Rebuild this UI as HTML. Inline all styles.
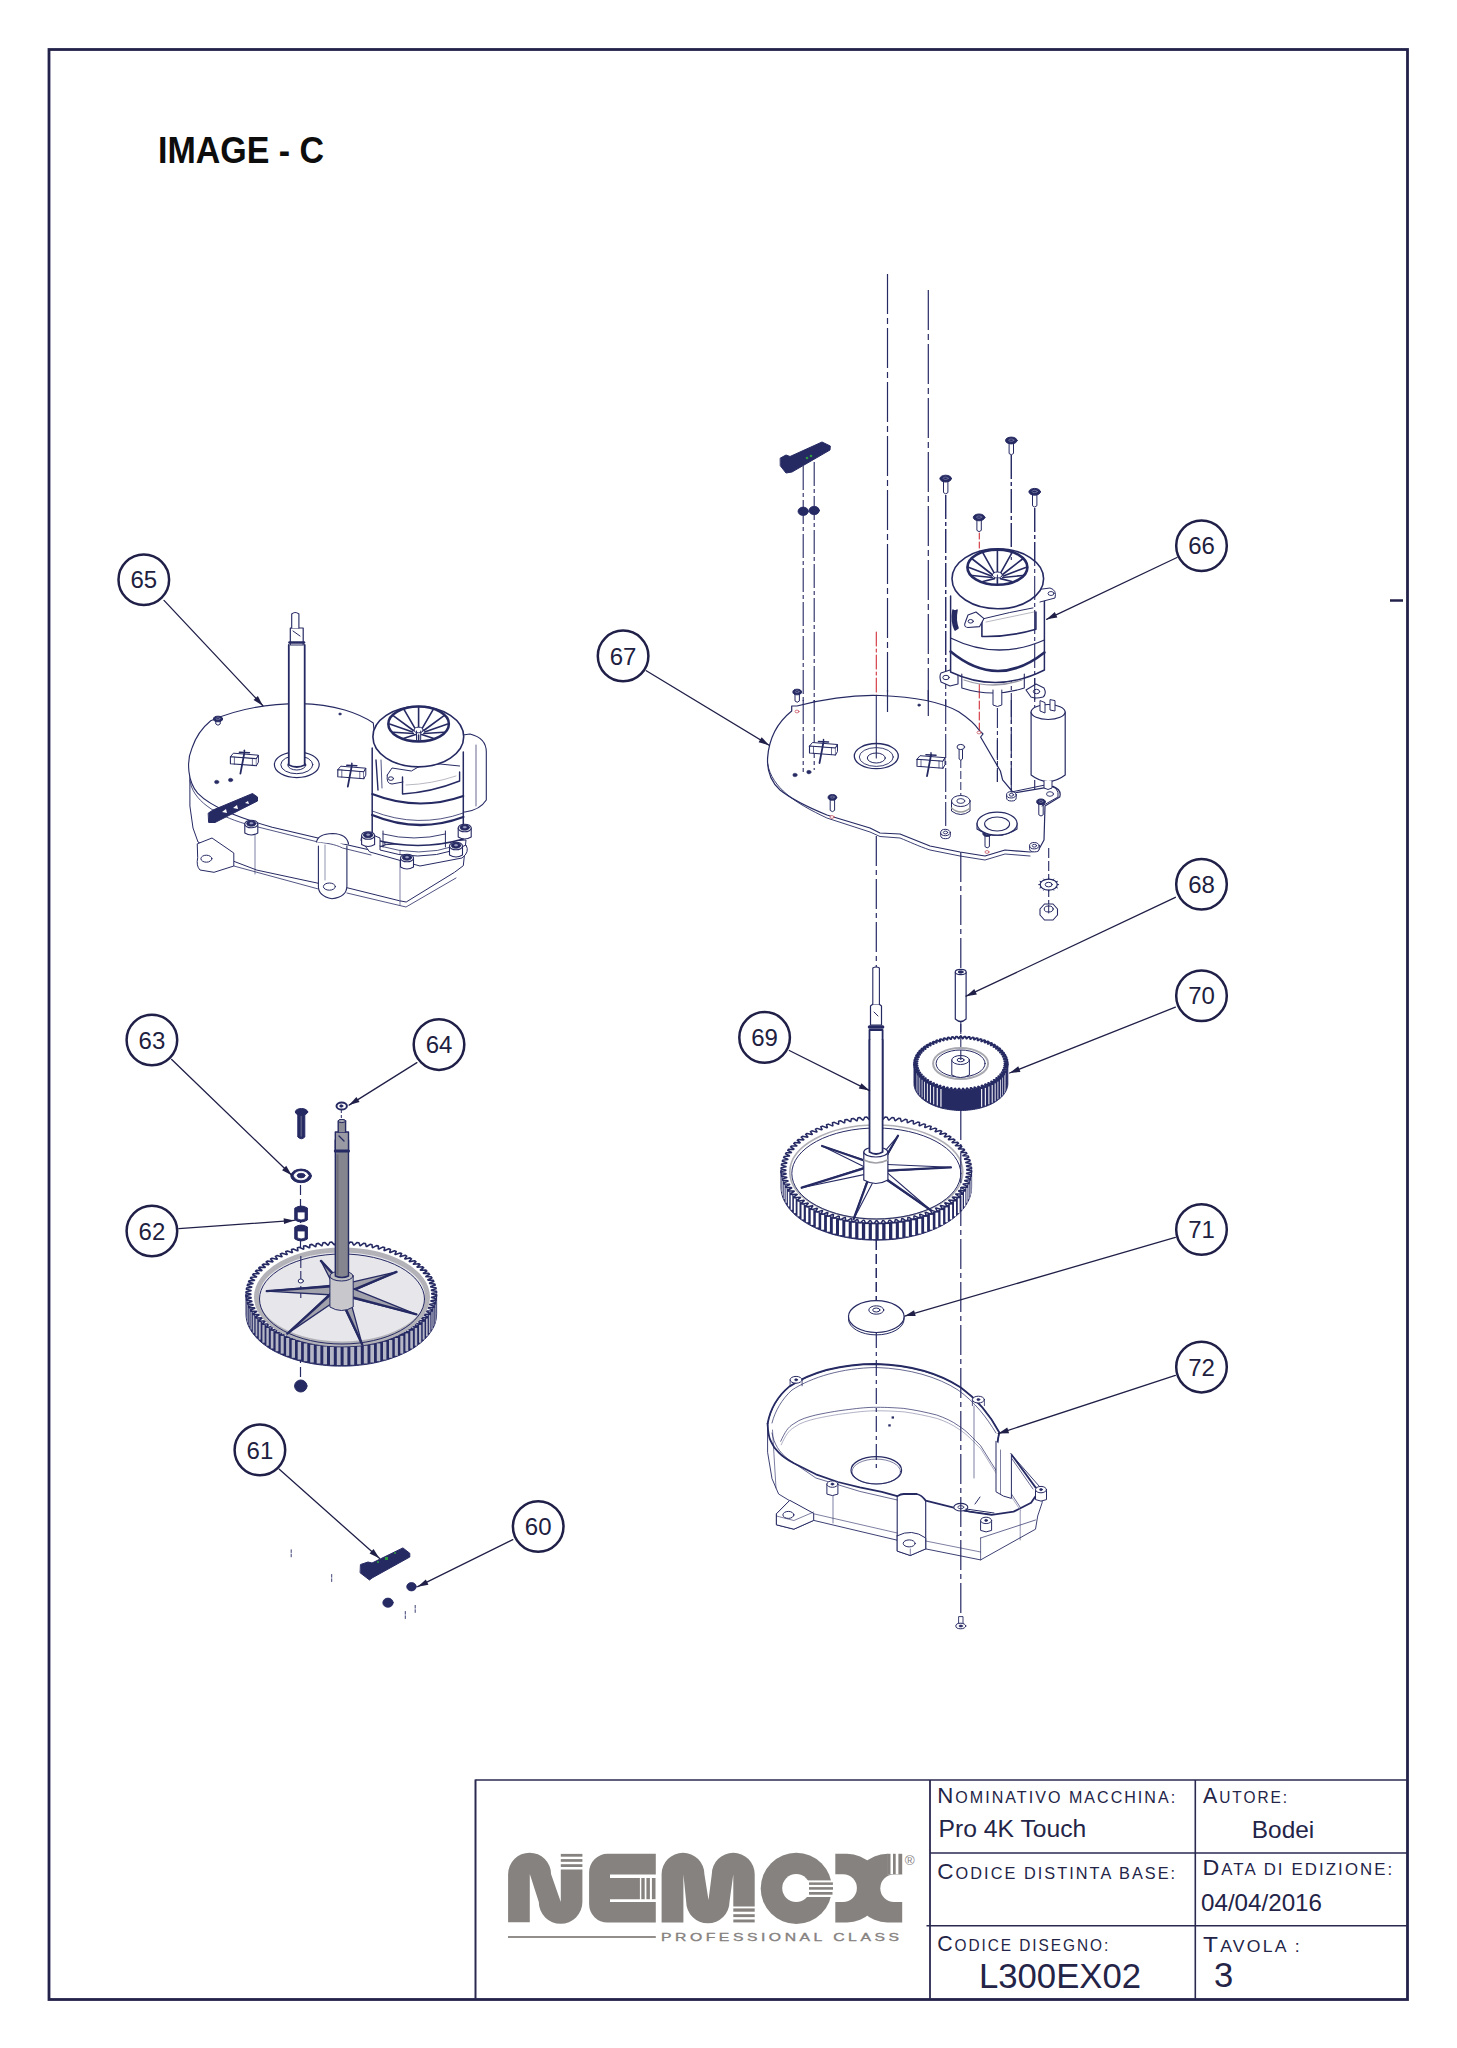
<!DOCTYPE html>
<html><head><meta charset="utf-8"><title>Nemox L300EX02</title>
<style>
html,body{margin:0;padding:0;background:#fff;}
body{width:1457px;height:2048px;overflow:hidden;position:relative;}
svg{position:absolute;left:0;top:0;}
text{font-family:"Liberation Sans",sans-serif;}
</style></head>
<body>
<svg width="1457" height="2048" viewBox="0 0 1457 2048">
<defs>
<marker id="ar" viewBox="0 0 12 8" refX="12" refY="4" markerWidth="12" markerHeight="7" markerUnits="userSpaceOnUse" orient="auto"><path d="M0,0.6 L12,4 L0,7.4 Z" fill="#1f1f48"/></marker>
</defs>
<g fill="none" stroke="#23224a">
<rect x="49" y="49.5" width="1358.5" height="1950" stroke-width="2.8"/>
<line x1="1390" y1="600.5" x2="1403" y2="600.5" stroke-width="2.5"/>
</g>
<text x="158" y="163.4" font-size="36.6" font-weight="bold" fill="#0d0d0d" textLength="166" lengthAdjust="spacingAndGlyphs">IMAGE - C</text>
<g stroke-linejoin="round" stroke-linecap="round">
<line x1="887.5" y1="274" x2="887.5" y2="712" stroke="#262a63" stroke-width="1.2" stroke-dasharray="40 4 6 4" stroke-linecap="butt"/>
<line x1="928.3" y1="290" x2="928.3" y2="716" stroke="#262a63" stroke-width="1.2" stroke-dasharray="40 4 6 4" stroke-linecap="butt"/>
<path d="M189.9,764 L189.9,806 L193,828 L198,842 L233.8,861.3 L256.9,870.1 L318.4,883.3 L346.9,887.7 L399.6,900.8 L406.2,902 L454.5,872.3 L463.3,865.7 L466,840 L380,845 Z" stroke="#262a63" stroke-width="1.0" fill="#fff" />
<path d="M233.8,866 L318.4,889 M346.9,893 L406,907 L456,878" stroke="#262a63" stroke-width="0.8" fill="none" />
<line x1="255" y1="826" x2="255" y2="874" stroke="#262a63" stroke-width="0.6" />
<line x1="400" y1="850" x2="400" y2="905" stroke="#262a63" stroke-width="0.6" />
<path d="M197.6,843.7 L212,838 L233.8,853 L233.8,866 L214,872.3 L200,870 Q196,866 197.6,858 Z" stroke="#262a63" stroke-width="1.0" fill="#fff" />
<ellipse cx="206.4" cy="858.7" rx="5.5" ry="3.5" stroke="#262a63" stroke-width="1.0" fill="none" />
<path d="M318.4,846 L318.4,886 Q318,896 332,898.7 Q346.9,897 346.9,886 L346.9,846" stroke="#262a63" stroke-width="1.1" fill="#fff" />
<line x1="325" y1="845" x2="325" y2="880" stroke="#262a63" stroke-width="0.5" />
<ellipse cx="329.4" cy="886.6" rx="6" ry="3.6" stroke="#262a63" stroke-width="1.0" fill="none" />
<path d="M210.7,720.7 C240,708 270,703.6 300,703.6 C335,704 360,714 373.3,723 L385,845 L371,850.3 L342.5,843.7 C332,838 322,839 318,838 L272.2,827.3 C240,818 212,808 197.6,793.2 C188,782 186,762 192,748 C196,736 203,727 210.7,720.7 Z" stroke="#262a63" stroke-width="1.1" fill="#fff" />
<path d="M189.9,780 C192,800 215,815 245.9,824 L318,842 C325,843 335,844 342.5,848 L371,855" stroke="#262a63" stroke-width="0.8" fill="none" />
<path d="M316.5,842 Q318,834 332.6,833.5 Q347,834 348.5,844" stroke="#262a63" stroke-width="1.2" fill="#fff" />
<path d="M215.8,720 V724 Q218,726.5 220.2,724 V720" stroke="#262a63" stroke-width="1.0" fill="#fff" />
<ellipse cx="218" cy="719" rx="4.5" ry="2.8" stroke="#262a63" stroke-width="1.0" fill="#262a63" />
<ellipse cx="218" cy="718.7" rx="2" ry="1" stroke="#8a8cb0" stroke-width="0.6" fill="none" />
<path d="M230.4,756.7 L233.4,753.2 L258.4,755.2 L256.4,758.7 Z" stroke="#262a63" stroke-width="1.0" fill="#fff" />
<path d="M230.4,756.7 L256.4,758.7 L256.4,765.7 L230.4,763.7 Z" stroke="#262a63" stroke-width="1.1" fill="#fff" />
<path d="M256.4,758.7 L258.4,755.2 L258.4,762.2 L256.4,765.7" stroke="#262a63" stroke-width="1.0" fill="#fff" />
<line x1="234.4" y1="757.2" x2="234.4" y2="764.2" stroke="#262a63" stroke-width="0.7" />
<line x1="252.4" y1="758.4" x2="252.4" y2="765.4" stroke="#262a63" stroke-width="0.7" />
<line x1="239.4" y1="752.2" x2="249.4" y2="752.7" stroke="#262a63" stroke-width="1.6" />
<line x1="244.4" y1="750.2" x2="244.4" y2="752.7" stroke="#262a63" stroke-width="1.4" />
<line x1="244.4" y1="752.7" x2="240.4" y2="773.7" stroke="#262a63" stroke-width="1.8" />
<path d="M337.8,769.7 L340.8,766.2 L365.8,768.2 L363.8,771.7 Z" stroke="#262a63" stroke-width="1.0" fill="#fff" />
<path d="M337.8,769.7 L363.8,771.7 L363.8,778.7 L337.8,776.7 Z" stroke="#262a63" stroke-width="1.1" fill="#fff" />
<path d="M363.8,771.7 L365.8,768.2 L365.8,775.2 L363.8,778.7" stroke="#262a63" stroke-width="1.0" fill="#fff" />
<line x1="341.8" y1="770.2" x2="341.8" y2="777.2" stroke="#262a63" stroke-width="0.7" />
<line x1="359.8" y1="771.4" x2="359.8" y2="778.4" stroke="#262a63" stroke-width="0.7" />
<line x1="346.8" y1="765.2" x2="356.8" y2="765.7" stroke="#262a63" stroke-width="1.6" />
<line x1="351.8" y1="763.2" x2="351.8" y2="765.7" stroke="#262a63" stroke-width="1.4" />
<line x1="351.8" y1="765.7" x2="347.8" y2="786.7" stroke="#262a63" stroke-width="1.8" />
<ellipse cx="216.7" cy="782" rx="2.2" ry="1.8" stroke="#262a63" stroke-width="0.5" fill="#262a63" />
<ellipse cx="230.6" cy="780" rx="2.2" ry="1.8" stroke="#262a63" stroke-width="0.5" fill="#262a63" />
<ellipse cx="340" cy="714" rx="1.3" ry="1.1" stroke="#262a63" stroke-width="0.5" fill="#262a63" />
<path d="M208.5,813 L213,810 L252.5,793.5 L257.5,797 L257.5,801 L215,822.5 L209,822.5 Z" stroke="#262a63" stroke-width="1.0" fill="#262a63" />
<path d="M222,812 L226,809 L227,813 Z M233,808 L237,805 L238,809 Z M245,803 L248,801 L249,804 Z" fill="#fff"/>
<ellipse cx="296.8" cy="764.7" rx="22.4" ry="12.9" stroke="#262a63" stroke-width="1.2" fill="#fff" />
<ellipse cx="296.8" cy="764.7" rx="16" ry="9" stroke="#262a63" stroke-width="1.0" fill="#fff" />
<ellipse cx="296.8" cy="765" rx="9" ry="5" stroke="#262a63" stroke-width="1.0" fill="#fff" />
<path d="M288.8,645 V765 Q296.8,769 304.7,765 V645" stroke="#262a63" stroke-width="1.8" fill="#fff" />
<path d="M290.3,628 V645 H303.2 V628 Z" stroke="#262a63" stroke-width="1.2" fill="#fff" />
<line x1="289.5" y1="642.5" x2="304" y2="642.5" stroke="#262a63" stroke-width="2.6" />
<path d="M291.7,628 V614 Q295.3,611 298.9,614 V628" stroke="#262a63" stroke-width="1.1" fill="#fff" />
<line x1="293" y1="631" x2="300" y2="636" stroke="#262a63" stroke-width="1.0" />
<path d="M456,736 L470,734 Q486.3,738 486.3,752 L486.3,800 Q480,810 465,812 L460,812" stroke="#262a63" stroke-width="1.1" fill="#fff" />
<line x1="476" y1="745" x2="476" y2="806" stroke="#262a63" stroke-width="0.7" />
<path d="M372.2,748 V839 Q418,852 463.3,839 V752" stroke="#262a63" stroke-width="1.5" fill="#fff" />
<path d="M372.2,794 Q418,812 463.3,796" stroke="#262a63" stroke-width="2.0" fill="none" />
<path d="M372.2,811 Q418,829 463.3,813" stroke="#262a63" stroke-width="0.8" fill="none" />
<path d="M372.2,815 Q418,834 463.3,817" stroke="#262a63" stroke-width="2.4" fill="none" />
<path d="M383,831 L383,847 M445.4,831 L445.4,847" stroke="#262a63" stroke-width="1.0" fill="none" />
<path d="M383,834 Q414,842 445.4,834" stroke="#262a63" stroke-width="0.9" fill="none" />
<path d="M402.5,777 L402.5,794 Q432,792 459.6,781 L459.6,772" stroke="#262a63" stroke-width="1.4" fill="#fff" />
<path d="M387.3,775 L392,768 L411.4,771 L420,766 L440,764 L459.6,766" stroke="#262a63" stroke-width="1.0" fill="none" />
<path d="M387.3,775 Q386,784 392,784 L403,782" stroke="#262a63" stroke-width="1.0" fill="none" />
<ellipse cx="390.9" cy="778.6" rx="2.6" ry="1.8" stroke="#262a63" stroke-width="1.0" fill="#fff" />
<path d="M406,785 Q432,784 456,776" stroke="#9a9aa8" stroke-width="0.7" fill="none" />
<line x1="376" y1="760" x2="378" y2="790" stroke="#262a63" stroke-width="1.4" />
<line x1="381" y1="760" x2="382" y2="788" stroke="#262a63" stroke-width="0.8" />
<path d="M361,840 Q361,834 368,833 L380,838 L380,850 Q418,862 455,850 L466,845 Q470,852 462,858 L420,866 L370,852 Z" stroke="#262a63" stroke-width="1.0" fill="#fff" />
<path d="M380,846 Q420,858 455,846" stroke="#262a63" stroke-width="0.8" fill="none" />
<ellipse cx="418.3" cy="736.7" rx="45.4" ry="30.2" stroke="#262a63" stroke-width="1.6" fill="#fff" />
<ellipse cx="418.6" cy="724" rx="30.3" ry="17.4" stroke="#262a63" stroke-width="2.5" fill="#fff" />
<line x1="424.6" y1="732" x2="447.6" y2="724" stroke="#262a63" stroke-width="1.6" />
<line x1="423.8" y1="733.5" x2="443.7" y2="732.2" stroke="#262a63" stroke-width="1.6" />
<line x1="421.6" y1="734.6" x2="433.1" y2="738.3" stroke="#262a63" stroke-width="1.6" />
<line x1="418.6" y1="735" x2="418.6" y2="740.5" stroke="#262a63" stroke-width="1.6" />
<line x1="415.6" y1="734.6" x2="404.1" y2="738.3" stroke="#262a63" stroke-width="1.6" />
<line x1="413.4" y1="733.5" x2="393.5" y2="732.2" stroke="#262a63" stroke-width="1.6" />
<line x1="412.6" y1="732" x2="389.6" y2="724" stroke="#262a63" stroke-width="1.6" />
<line x1="413.4" y1="730.5" x2="393.5" y2="715.8" stroke="#262a63" stroke-width="1.6" />
<line x1="415.6" y1="729.4" x2="404.1" y2="709.7" stroke="#262a63" stroke-width="1.6" />
<line x1="418.6" y1="729" x2="418.6" y2="707.5" stroke="#262a63" stroke-width="1.6" />
<line x1="421.6" y1="729.4" x2="433.1" y2="709.7" stroke="#262a63" stroke-width="1.6" />
<line x1="423.8" y1="730.5" x2="443.7" y2="715.8" stroke="#262a63" stroke-width="1.6" />
<ellipse cx="418.6" cy="730" rx="4.5" ry="2.8" stroke="#262a63" stroke-width="1.0" fill="#fff" />
<line x1="416.5" y1="731" x2="416.5" y2="740" stroke="#262a63" stroke-width="1.0" />
<line x1="420.7" y1="731" x2="420.7" y2="740" stroke="#262a63" stroke-width="1.0" />
<path d="M244.8,824 V833 Q251.3,837 257.8,833 V824" stroke="#262a63" stroke-width="1.1" fill="#fff" />
<ellipse cx="251.3" cy="824" rx="6.5" ry="3.8" stroke="#262a63" stroke-width="1.1" fill="#fff" />
<ellipse cx="251.3" cy="823.5" rx="4.6" ry="2.7" stroke="#262a63" stroke-width="0.9" fill="#262a63" />
<ellipse cx="251.3" cy="823.2" rx="1.6" ry="0.9" stroke="#9a9cc0" stroke-width="0.5" fill="#9a9cc0" />
<path d="M361.6,835.5 V844.5 Q368.1,848.5 374.6,844.5 V835.5" stroke="#262a63" stroke-width="1.1" fill="#fff" />
<ellipse cx="368.1" cy="835.5" rx="6.5" ry="3.8" stroke="#262a63" stroke-width="1.1" fill="#fff" />
<ellipse cx="368.1" cy="835" rx="4.6" ry="2.7" stroke="#262a63" stroke-width="0.9" fill="#262a63" />
<ellipse cx="368.1" cy="834.7" rx="1.6" ry="0.9" stroke="#9a9cc0" stroke-width="0.5" fill="#9a9cc0" />
<path d="M458.2,828 V837 Q464.7,841 471.2,837 V828" stroke="#262a63" stroke-width="1.1" fill="#fff" />
<ellipse cx="464.7" cy="828" rx="6.5" ry="3.8" stroke="#262a63" stroke-width="1.1" fill="#fff" />
<ellipse cx="464.7" cy="827.5" rx="4.6" ry="2.7" stroke="#262a63" stroke-width="0.9" fill="#262a63" />
<ellipse cx="464.7" cy="827.2" rx="1.6" ry="0.9" stroke="#9a9cc0" stroke-width="0.5" fill="#9a9cc0" />
<path d="M400.5,858 V867 Q407,871 413.5,867 V858" stroke="#262a63" stroke-width="1.1" fill="#fff" />
<ellipse cx="407" cy="858" rx="6.5" ry="3.8" stroke="#262a63" stroke-width="1.1" fill="#fff" />
<ellipse cx="407" cy="857.5" rx="4.6" ry="2.7" stroke="#262a63" stroke-width="0.9" fill="#262a63" />
<ellipse cx="407" cy="857.2" rx="1.6" ry="0.9" stroke="#9a9cc0" stroke-width="0.5" fill="#9a9cc0" />
<path d="M449.5,846 V855 Q456,859 462.5,855 V846" stroke="#262a63" stroke-width="1.1" fill="#fff" />
<ellipse cx="456" cy="846" rx="6.5" ry="3.8" stroke="#262a63" stroke-width="1.1" fill="#fff" />
<ellipse cx="456" cy="845.5" rx="4.6" ry="2.7" stroke="#262a63" stroke-width="0.9" fill="#262a63" />
<ellipse cx="456" cy="845.2" rx="1.6" ry="0.9" stroke="#9a9cc0" stroke-width="0.5" fill="#9a9cc0" />
<line x1="876.3" y1="632" x2="876.3" y2="696" stroke="#d0303a" stroke-width="1.1" stroke-dasharray="14 3 3 3"/>
<line x1="979.3" y1="533" x2="979.3" y2="552" stroke="#d0303a" stroke-width="1.1" stroke-dasharray="6 3"/>
<line x1="979.3" y1="690" x2="979.3" y2="732" stroke="#d0303a" stroke-width="1.1" stroke-dasharray="8 3"/>
<line x1="803.2" y1="466" x2="803.2" y2="772" stroke="#262a63" stroke-width="1.1" stroke-dasharray="24 3 4 3" stroke-linecap="butt"/>
<line x1="814.2" y1="462" x2="814.2" y2="770" stroke="#262a63" stroke-width="1.1" stroke-dasharray="24 3 4 3" stroke-linecap="butt"/>
<path d="M780.5,458 L786,455 L790,456.5 L822,442 L830.3,446 L830,450 L792,472 L786,473 L780.5,466 Z" stroke="#262a63" stroke-width="1.0" fill="#262a63" />
<circle cx="807" cy="458" r="1.3" fill="#2c9a3c"/><circle cx="811" cy="456" r="1.3" fill="#2c9a3c"/>
<ellipse cx="803.2" cy="511.3" rx="5.2" ry="4.2" stroke="#262a63" stroke-width="0.8" fill="#262a63" />
<ellipse cx="814.2" cy="510.5" rx="5.2" ry="4.2" stroke="#262a63" stroke-width="0.8" fill="#262a63" />
<line x1="945.7" y1="495" x2="945.7" y2="835" stroke="#262a63" stroke-width="1.1" stroke-dasharray="24 3 4 3" stroke-linecap="butt"/>
<line x1="1011.3" y1="455" x2="1011.3" y2="795" stroke="#262a63" stroke-width="1.1" stroke-dasharray="24 3 4 3" stroke-linecap="butt"/>
<line x1="1034.7" y1="508" x2="1034.7" y2="850" stroke="#262a63" stroke-width="1.1" stroke-dasharray="24 3 4 3" stroke-linecap="butt"/>
<line x1="876.3" y1="836" x2="876.3" y2="1005" stroke="#262a63" stroke-width="1.2" stroke-dasharray="30 4 5 4" stroke-linecap="butt"/>
<line x1="960.8" y1="852" x2="960.8" y2="970" stroke="#262a63" stroke-width="1.2" stroke-dasharray="30 4 5 4" stroke-linecap="butt"/>
<line x1="1048.7" y1="848" x2="1048.7" y2="905" stroke="#262a63" stroke-width="1.1" stroke-dasharray="10 3" stroke-linecap="butt"/>
<path d="M791.7,706 L797,706 C820,700 850,694.5 880,695.5 C920,697 945,704 958.7,711.7 C968,718 975,724 978.4,729.3 L983,734 L980.6,737 L1000.4,771 L1002.6,779.8 L1013.6,793 L1053.1,786.4 Q1062,790 1059.7,797 L1045,806 L1044,840 L1038,851 L1030,852 L1005,850 L985,856 L960,852 L930,846 C915,840 905,836 900,834 L880,833 L870,828 L826.9,815 C805,806 790,798 780,790 C770,781 767,770 767.6,757.9 C769,738 778,722 791.7,711 Z" stroke="#262a63" stroke-width="1.2" fill="#fff" />
<path d="M767.6,764 C772,788 795,803 826.9,818 L870,832 L880,836.5 L900,838 C910,842 918,846 930,850 L960,856 L985,860 L1005,854 L1030,856" stroke="#262a63" stroke-width="0.9" fill="none" />
<line x1="803.2" y1="700" x2="803.2" y2="772" stroke="#262a63" stroke-width="1.1" stroke-dasharray="24 3 4 3" stroke-linecap="butt"/>
<line x1="814.2" y1="700" x2="814.2" y2="770" stroke="#262a63" stroke-width="1.1" stroke-dasharray="24 3 4 3" stroke-linecap="butt"/>
<line x1="887.5" y1="690" x2="887.5" y2="712" stroke="#262a63" stroke-width="1.2" stroke-dasharray="40 4 6 4" stroke-linecap="butt"/>
<line x1="928.3" y1="690" x2="928.3" y2="716" stroke="#262a63" stroke-width="1.2" stroke-dasharray="40 4 6 4" stroke-linecap="butt"/>
<line x1="945.7" y1="700" x2="945.7" y2="830" stroke="#262a63" stroke-width="1.1" stroke-dasharray="24 3 4 3" stroke-linecap="butt"/>
<line x1="1011.3" y1="700" x2="1011.3" y2="792" stroke="#262a63" stroke-width="1.1" stroke-dasharray="24 3 4 3" stroke-linecap="butt"/>
<line x1="997.4" y1="740" x2="997.4" y2="782" stroke="#262a63" stroke-width="1.1" stroke-dasharray="20 3 4 3" stroke-linecap="butt"/>
<ellipse cx="876.3" cy="756.1" rx="22" ry="12.6" stroke="#262a63" stroke-width="1.3" fill="#fff" />
<ellipse cx="876.3" cy="757" rx="17" ry="9.4" stroke="#262a63" stroke-width="0.9" fill="#fff" />
<ellipse cx="876.3" cy="758" rx="9" ry="5" stroke="#262a63" stroke-width="1.0" fill="#fff" />
<line x1="876.3" y1="696" x2="876.3" y2="758" stroke="#262a63" stroke-width="1.1" />
<path d="M809.5,746 L812.5,742.5 L837.5,744.5 L835.5,748 Z" stroke="#262a63" stroke-width="1.0" fill="#fff" />
<path d="M809.5,746 L835.5,748 L835.5,755 L809.5,753 Z" stroke="#262a63" stroke-width="1.1" fill="#fff" />
<path d="M835.5,748 L837.5,744.5 L837.5,751.5 L835.5,755" stroke="#262a63" stroke-width="1.0" fill="#fff" />
<line x1="813.5" y1="746.5" x2="813.5" y2="753.5" stroke="#262a63" stroke-width="0.7" />
<line x1="831.5" y1="747.7" x2="831.5" y2="754.7" stroke="#262a63" stroke-width="0.7" />
<line x1="818.5" y1="741.5" x2="828.5" y2="742" stroke="#262a63" stroke-width="1.6" />
<line x1="823.5" y1="739.5" x2="823.5" y2="742" stroke="#262a63" stroke-width="1.4" />
<line x1="823.5" y1="742" x2="819.5" y2="763" stroke="#262a63" stroke-width="1.8" />
<path d="M917,759.2 L920,755.7 L945,757.7 L943,761.2 Z" stroke="#262a63" stroke-width="1.0" fill="#fff" />
<path d="M917,759.2 L943,761.2 L943,768.2 L917,766.2 Z" stroke="#262a63" stroke-width="1.1" fill="#fff" />
<path d="M943,761.2 L945,757.7 L945,764.7 L943,768.2" stroke="#262a63" stroke-width="1.0" fill="#fff" />
<line x1="921" y1="759.7" x2="921" y2="766.7" stroke="#262a63" stroke-width="0.7" />
<line x1="939" y1="760.9" x2="939" y2="767.9" stroke="#262a63" stroke-width="0.7" />
<line x1="926" y1="754.7" x2="936" y2="755.2" stroke="#262a63" stroke-width="1.6" />
<line x1="931" y1="752.7" x2="931" y2="755.2" stroke="#262a63" stroke-width="1.4" />
<line x1="931" y1="755.2" x2="927" y2="776.2" stroke="#262a63" stroke-width="1.8" />
<ellipse cx="795" cy="775" rx="2.2" ry="1.8" stroke="#262a63" stroke-width="0.5" fill="#262a63" />
<ellipse cx="808.9" cy="772.1" rx="2.2" ry="1.8" stroke="#262a63" stroke-width="0.5" fill="#262a63" />
<ellipse cx="919.1" cy="705.1" rx="1.4" ry="1.2" stroke="#262a63" stroke-width="0.5" fill="#262a63" />
<ellipse cx="797" cy="711.5" rx="2" ry="1.4" stroke="#c04050" stroke-width="0.7" fill="#fff" />
<ellipse cx="979" cy="732.5" rx="2" ry="1.4" stroke="#c04050" stroke-width="0.7" fill="#fff" />
<ellipse cx="832" cy="817" rx="2" ry="1.4" stroke="#c04050" stroke-width="0.7" fill="#fff" />
<ellipse cx="987" cy="852" rx="2" ry="1.4" stroke="#c04050" stroke-width="0.7" fill="#fff" />
<path d="M795,693 V701 Q797.2,703.5 799.4,701 V693" stroke="#262a63" stroke-width="1.0" fill="#fff" />
<ellipse cx="797.2" cy="692" rx="4.3" ry="2.8" stroke="#262a63" stroke-width="1.0" fill="#262a63" />
<ellipse cx="797.2" cy="691.7" rx="1.9" ry="1" stroke="#8a8cb0" stroke-width="0.6" fill="none" />
<path d="M830.2,798.4 V810.4 Q832.4,812.9 834.6,810.4 V798.4" stroke="#262a63" stroke-width="1.0" fill="#fff" />
<ellipse cx="832.4" cy="797.4" rx="4.3" ry="2.8" stroke="#262a63" stroke-width="1.0" fill="#262a63" />
<ellipse cx="832.4" cy="797.1" rx="1.9" ry="1" stroke="#8a8cb0" stroke-width="0.6" fill="none" />
<path d="M985,834.6 V846.6 Q987.2,849.1 989.4,846.6 V834.6" stroke="#262a63" stroke-width="1.0" fill="#fff" />
<ellipse cx="987.2" cy="833.6" rx="4.3" ry="2.8" stroke="#262a63" stroke-width="1.0" fill="#262a63" />
<ellipse cx="987.2" cy="833.3" rx="1.9" ry="1" stroke="#8a8cb0" stroke-width="0.6" fill="none" />
<path d="M1038.8,802.8 V814.8 Q1041,817.3 1043.2,814.8 V802.8" stroke="#262a63" stroke-width="1.0" fill="#fff" />
<ellipse cx="1041" cy="801.8" rx="4.3" ry="2.8" stroke="#262a63" stroke-width="1.0" fill="#262a63" />
<ellipse cx="1041" cy="801.5" rx="1.9" ry="1" stroke="#8a8cb0" stroke-width="0.6" fill="none" />
<line x1="960.8" y1="760" x2="960.8" y2="796" stroke="#262a63" stroke-width="1.0" stroke-dasharray="8 3" stroke-linecap="butt"/>
<path d="M959.1,748 V759 Q960.8,761.5 962.5,759 V748" stroke="#262a63" stroke-width="1.0" fill="#fff" />
<ellipse cx="960.8" cy="747" rx="3.8" ry="2.6" stroke="#262a63" stroke-width="1.0" fill="#fff" />
<path d="M951.5,801 V811 Q960.8,818 970,811 V801" stroke="#262a63" stroke-width="1.0" fill="#fff" />
<ellipse cx="960.8" cy="801" rx="9.3" ry="5.5" stroke="#262a63" stroke-width="1.0" fill="#fff" />
<ellipse cx="960.8" cy="801" rx="4" ry="2.4" stroke="#262a63" stroke-width="0.9" fill="#fff" />
<path d="M951.5,808 Q960.8,816 970,808" stroke="#9a9a9a" stroke-width="1.6" fill="none" />
<path d="M977,823 V829 Q997,842 1017,829 V823" stroke="#262a63" stroke-width="1.1" fill="#fff" />
<ellipse cx="997.1" cy="823.7" rx="20" ry="11.5" stroke="#262a63" stroke-width="1.2" fill="#fff" />
<ellipse cx="997.1" cy="824" rx="12.5" ry="7" stroke="#262a63" stroke-width="1.1" fill="#fff" />
<path d="M940.7,832.5 V835.5 A4.8,3.2 0 0 0 950.3,835.5 V832.5" stroke="#262a63" stroke-width="1.0" fill="#fff" />
<ellipse cx="945.5" cy="832.5" rx="4.8" ry="3.2" stroke="#262a63" stroke-width="1.0" fill="#fff" />
<ellipse cx="945.5" cy="832.5" rx="2.2" ry="1.4" stroke="#262a63" stroke-width="0.9" fill="#fff" />
<path d="M1006.6,794.8 V797.8 A4.8,3.2 0 0 0 1016.2,797.8 V794.8" stroke="#262a63" stroke-width="1.0" fill="#fff" />
<ellipse cx="1011.4" cy="794.8" rx="4.8" ry="3.2" stroke="#262a63" stroke-width="1.0" fill="#fff" />
<ellipse cx="1011.4" cy="794.8" rx="2.2" ry="1.4" stroke="#262a63" stroke-width="0.9" fill="#fff" />
<path d="M1029.6,845.7 V848.7 A4.8,3.2 0 0 0 1039.2,848.7 V845.7" stroke="#262a63" stroke-width="1.0" fill="#fff" />
<ellipse cx="1034.4" cy="845.7" rx="4.8" ry="3.2" stroke="#262a63" stroke-width="1.0" fill="#fff" />
<ellipse cx="1034.4" cy="845.7" rx="2.2" ry="1.4" stroke="#262a63" stroke-width="0.9" fill="#fff" />
<path d="M1011.4,792 L1045,785 Q1060,786 1058,797 L1042,806" stroke="#262a63" stroke-width="1.0" fill="none" />
<ellipse cx="1050" cy="794" rx="3.5" ry="2.3" stroke="#262a63" stroke-width="0.9" fill="#fff" />
<path d="M1031.1,712 V775 Q1048,788 1065.2,775 V712" stroke="#262a63" stroke-width="1.2" fill="#fff" />
<ellipse cx="1048.1" cy="712" rx="17" ry="7.5" stroke="#262a63" stroke-width="1.2" fill="#fff" />
<path d="M1040,701 V711 L1045,713 V703 Z M1050,700 V710 L1055,711 V701 Z" stroke="#262a63" stroke-width="1.0" fill="#fff" />
<path d="M1044,781 V788 Q1048,791 1052,788 V781" stroke="#262a63" stroke-width="1.0" fill="#fff" />
<ellipse cx="1048.7" cy="884.6" rx="8.6" ry="5.5" stroke="#262a63" stroke-width="1.2" fill="#fff" />
<ellipse cx="1048.7" cy="884.6" rx="3.5" ry="2.3" stroke="#262a63" stroke-width="1.0" fill="#fff" />
<line x1="1057.3" y1="884.6" x2="1058.7" y2="884.6" stroke="#262a63" stroke-width="1.0" />
<line x1="1056.1" y1="887.4" x2="1057.4" y2="887.9" stroke="#262a63" stroke-width="1.0" />
<line x1="1053" y1="889.4" x2="1053.7" y2="890.2" stroke="#262a63" stroke-width="1.0" />
<line x1="1048.7" y1="890.1" x2="1048.7" y2="891.1" stroke="#262a63" stroke-width="1.0" />
<line x1="1044.4" y1="889.4" x2="1043.7" y2="890.2" stroke="#262a63" stroke-width="1.0" />
<line x1="1041.3" y1="887.4" x2="1040" y2="887.9" stroke="#262a63" stroke-width="1.0" />
<line x1="1040.1" y1="884.6" x2="1038.7" y2="884.6" stroke="#262a63" stroke-width="1.0" />
<line x1="1041.3" y1="881.9" x2="1040" y2="881.4" stroke="#262a63" stroke-width="1.0" />
<line x1="1044.4" y1="879.8" x2="1043.7" y2="879" stroke="#262a63" stroke-width="1.0" />
<line x1="1048.7" y1="879.1" x2="1048.7" y2="878.1" stroke="#262a63" stroke-width="1.0" />
<line x1="1053" y1="879.8" x2="1053.7" y2="879" stroke="#262a63" stroke-width="1.0" />
<line x1="1056.1" y1="881.9" x2="1057.4" y2="881.4" stroke="#262a63" stroke-width="1.0" />
<path d="M1040,909 L1044.5,904 L1053,904 L1057.5,909 V915 L1053,920 L1044.5,920 L1040,915 Z" stroke="#262a63" stroke-width="1.1" fill="#fff" />
<ellipse cx="1048.7" cy="909" rx="4.5" ry="3" stroke="#262a63" stroke-width="1.0" fill="#fff" />
<line x1="1048.7" y1="905" x2="1048.7" y2="913" stroke="#262a63" stroke-width="1.0" />
<line x1="979.3" y1="552" x2="979.3" y2="690" stroke="#d0303a" stroke-width="1.0" stroke-dasharray="8 3" stroke-linecap="butt"/>
<path d="M943.5,479.6 V492.6 Q945.7,495.1 947.9,492.6 V479.6" stroke="#262a63" stroke-width="1.0" fill="#fff" />
<ellipse cx="945.7" cy="478.6" rx="5.8" ry="3.4" stroke="#262a63" stroke-width="1.0" fill="#262a63" />
<ellipse cx="945.7" cy="478.3" rx="2.6" ry="1.2" stroke="#8a8cb0" stroke-width="0.6" fill="none" />
<path d="M1009.1,441.5 V453.5 Q1011.3,456 1013.5,453.5 V441.5" stroke="#262a63" stroke-width="1.0" fill="#fff" />
<ellipse cx="1011.3" cy="440.5" rx="5.8" ry="3.4" stroke="#262a63" stroke-width="1.0" fill="#262a63" />
<ellipse cx="1011.3" cy="440.2" rx="2.6" ry="1.2" stroke="#8a8cb0" stroke-width="0.6" fill="none" />
<path d="M1032.5,492.8 V505.8 Q1034.7,508.3 1036.9,505.8 V492.8" stroke="#262a63" stroke-width="1.0" fill="#fff" />
<ellipse cx="1034.7" cy="491.8" rx="5.8" ry="3.4" stroke="#262a63" stroke-width="1.0" fill="#262a63" />
<ellipse cx="1034.7" cy="491.5" rx="2.6" ry="1.2" stroke="#8a8cb0" stroke-width="0.6" fill="none" />
<path d="M976.9,518.4 V530.4 Q979.1,532.9 981.3,530.4 V518.4" stroke="#262a63" stroke-width="1.0" fill="#fff" />
<ellipse cx="979.1" cy="517.4" rx="5.8" ry="3.4" stroke="#262a63" stroke-width="1.0" fill="#262a63" />
<ellipse cx="979.1" cy="517.1" rx="2.6" ry="1.2" stroke="#8a8cb0" stroke-width="0.6" fill="none" />
<line x1="945.7" y1="495" x2="945.7" y2="682" stroke="#262a63" stroke-width="1.1" stroke-dasharray="24 3 4 3" stroke-linecap="butt"/>
<path d="M941,673 Q939,676 941,682 L950,686 L958,684 L958,672 L950,670 Z" stroke="#262a63" stroke-width="1.1" fill="#fff" />
<ellipse cx="946" cy="677.5" rx="3.2" ry="2.2" stroke="#262a63" stroke-width="1.0" fill="#fff" />
<path d="M1026,690 L1031,697 Q1036,699 1043,697 Q1047,694 1044,688 L1036,684 Z" stroke="#262a63" stroke-width="1.1" fill="#fff" />
<ellipse cx="1036.5" cy="691.5" rx="3.2" ry="2.2" stroke="#262a63" stroke-width="1.0" fill="#fff" />
<path d="M950.6,596 V672 Q997,694 1044.4,670 V598" stroke="#262a63" stroke-width="1.5" fill="#fff" />
<path d="M950.6,638 Q997,661 1044.4,640" stroke="#262a63" stroke-width="1.3" fill="none" />
<path d="M950.6,651.6 Q997,690 1044.4,652.5" stroke="#262a63" stroke-width="2.6" fill="none" />
<path d="M981.9,618.6 L981.9,636.4 Q1010,637 1035.9,629.3 L1035.9,612" stroke="#262a63" stroke-width="1.6" fill="#fff" />
<path d="M984,618.6 Q1010,612 1033,607.9" stroke="#262a63" stroke-width="1.0" fill="none" />
<path d="M986,622 Q1010,617 1034,612" stroke="#9a9aa8" stroke-width="0.7" fill="none" />
<path d="M965.4,622 Q963,627 968,627.5 L979.6,626.6 L984,618.6 L976,612 L968,615 Z" stroke="#262a63" stroke-width="1.1" fill="#fff" />
<ellipse cx="970.7" cy="621.3" rx="2.6" ry="1.8" stroke="#262a63" stroke-width="1.0" fill="#fff" />
<path d="M953,610 Q951,622 955,630 L958,628 Q955,620 957,610" stroke="#262a63" stroke-width="1.6" fill="#262a63" />
<path d="M961.8,674 L961.8,688 Q993,698 1024.3,688 L1024.3,674" stroke="#262a63" stroke-width="1.1" fill="none" />
<path d="M964,680 Q993,690 1022,680" stroke="#9a9aa8" stroke-width="1.3" fill="none" />
<path d="M1035,590 L1050,588 Q1057,590 1055,598 L1040,602" stroke="#262a63" stroke-width="1.0" fill="#fff" />
<ellipse cx="1051" cy="593.5" rx="3" ry="2" stroke="#262a63" stroke-width="0.9" fill="#fff" />
<path d="M993,690 V705 Q997.4,708 1001.8,705 V690" stroke="#262a63" stroke-width="1.0" fill="#fff" />
<line x1="997.4" y1="708" x2="997.4" y2="782" stroke="#262a63" stroke-width="1.1" stroke-dasharray="20 3 4 3" stroke-linecap="butt"/>
<ellipse cx="997.8" cy="578.8" rx="45.8" ry="30" stroke="#262a63" stroke-width="1.6" fill="#fff" />
<ellipse cx="997.4" cy="567.2" rx="30" ry="17.6" stroke="#262a63" stroke-width="2.6" fill="#fff" />
<line x1="1003.4" y1="576" x2="1026.4" y2="567.2" stroke="#262a63" stroke-width="1.6" />
<line x1="1002.6" y1="577.5" x2="1022.5" y2="575.5" stroke="#262a63" stroke-width="1.6" />
<line x1="1000.4" y1="578.6" x2="1011.9" y2="581.5" stroke="#262a63" stroke-width="1.6" />
<line x1="997.4" y1="579" x2="997.4" y2="583.7" stroke="#262a63" stroke-width="1.6" />
<line x1="994.4" y1="578.6" x2="982.9" y2="581.5" stroke="#262a63" stroke-width="1.6" />
<line x1="992.2" y1="577.5" x2="972.3" y2="575.5" stroke="#262a63" stroke-width="1.6" />
<line x1="991.4" y1="576" x2="968.4" y2="567.2" stroke="#262a63" stroke-width="1.6" />
<line x1="992.2" y1="574.5" x2="972.3" y2="559" stroke="#262a63" stroke-width="1.6" />
<line x1="994.4" y1="573.4" x2="982.9" y2="552.9" stroke="#262a63" stroke-width="1.6" />
<line x1="997.4" y1="573" x2="997.4" y2="550.7" stroke="#262a63" stroke-width="1.6" />
<line x1="1000.4" y1="573.4" x2="1011.9" y2="552.9" stroke="#262a63" stroke-width="1.6" />
<line x1="1002.6" y1="574.5" x2="1022.5" y2="559" stroke="#262a63" stroke-width="1.6" />
<ellipse cx="997.4" cy="575" rx="5" ry="3" stroke="#262a63" stroke-width="1.0" fill="#fff" />
<line x1="997.4" y1="575" x2="997.4" y2="583" stroke="#262a63" stroke-width="1.0" />
<line x1="1011.3" y1="455" x2="1011.3" y2="560" stroke="#262a63" stroke-width="1.1" stroke-dasharray="24 3 4 3" stroke-linecap="butt"/>
<line x1="1034.7" y1="508" x2="1034.7" y2="700" stroke="#262a63" stroke-width="1.1" stroke-dasharray="24 3 4 3" stroke-linecap="butt"/>
<line x1="960.8" y1="1022" x2="960.8" y2="1060" stroke="#262a63" stroke-width="1.1" stroke-dasharray="10 3" stroke-linecap="butt"/>
<path d="M955.3,972 V1019 Q960.7,1024 966.1,1019 V972" stroke="#262a63" stroke-width="1.2" fill="#fff" />
<ellipse cx="960.7" cy="972" rx="5.4" ry="2.6" stroke="#262a63" stroke-width="1.1" fill="#fff" />
<ellipse cx="960.7" cy="972" rx="2.5" ry="1.2" stroke="#262a63" stroke-width="0.9" fill="#262a63" />
<path d="M1007.8,1063.5 L1007.8,1064.6 L1007.7,1065.6 L1007.5,1066.7 L1007.2,1067.7 L1006.9,1068.8 L1006.5,1069.8 L1006,1070.8 L1005.5,1071.8 L1004.9,1072.8 L1004.2,1073.8 L1003.5,1074.8 L1002.7,1075.7 L1001.8,1076.7 L1000.9,1077.6 L999.9,1078.5 L998.8,1079.3 L997.7,1080.2 L996.6,1081 L995.3,1081.8 L994.1,1082.6 L992.7,1083.3 L991.4,1084 L989.9,1084.7 L988.5,1085.3 L987,1085.9 L985.4,1086.5 L983.8,1087 L982.2,1087.5 L980.5,1088 L978.8,1088.4 L977.1,1088.8 L975.4,1089.1 L973.6,1089.4 L971.8,1089.7 L970,1089.9 L968.2,1090.1 L966.4,1090.3 L964.6,1090.4 L962.7,1090.4 L960.9,1090.5 L959.1,1090.4 L957.2,1090.4 L955.4,1090.3 L953.6,1090.1 L951.8,1089.9 L950,1089.7 L948.2,1089.4 L946.4,1089.1 L944.7,1088.8 L943,1088.4 L941.3,1088 L939.6,1087.5 L938,1087 L936.4,1086.5 L934.8,1085.9 L933.3,1085.3 L931.9,1084.7 L930.4,1084 L929.1,1083.3 L927.7,1082.6 L926.5,1081.8 L925.2,1081 L924.1,1080.2 L923,1079.3 L921.9,1078.5 L920.9,1077.6 L920,1076.7 L919.1,1075.7 L918.3,1074.8 L917.6,1073.8 L916.9,1072.8 L916.3,1071.8 L915.8,1070.8 L915.3,1069.8 L914.9,1068.8 L914.6,1067.7 L914.3,1066.7 L914.1,1065.6 L914,1064.6 L914,1063.5 L914,1083.5 L914,1084.6 L914.1,1085.6 L914.3,1086.7 L914.6,1087.7 L914.9,1088.8 L915.3,1089.8 L915.8,1090.8 L916.3,1091.8 L916.9,1092.8 L917.6,1093.8 L918.3,1094.8 L919.1,1095.7 L920,1096.7 L920.9,1097.6 L921.9,1098.5 L923,1099.3 L924.1,1100.2 L925.2,1101 L926.5,1101.8 L927.7,1102.6 L929.1,1103.3 L930.4,1104 L931.9,1104.7 L933.3,1105.3 L934.8,1105.9 L936.4,1106.5 L938,1107 L939.6,1107.5 L941.3,1108 L943,1108.4 L944.7,1108.8 L946.4,1109.1 L948.2,1109.4 L950,1109.7 L951.8,1109.9 L953.6,1110.1 L955.4,1110.3 L957.2,1110.4 L959.1,1110.4 L960.9,1110.5 L962.7,1110.4 L964.6,1110.4 L966.4,1110.3 L968.2,1110.1 L970,1109.9 L971.8,1109.7 L973.6,1109.4 L975.4,1109.1 L977.1,1108.8 L978.8,1108.4 L980.5,1108 L982.2,1107.5 L983.8,1107 L985.4,1106.5 L987,1105.9 L988.5,1105.3 L989.9,1104.7 L991.4,1104 L992.7,1103.3 L994.1,1102.6 L995.3,1101.8 L996.6,1101 L997.7,1100.2 L998.8,1099.3 L999.9,1098.5 L1000.9,1097.6 L1001.8,1096.7 L1002.7,1095.7 L1003.5,1094.8 L1004.2,1093.8 L1004.9,1092.8 L1005.5,1091.8 L1006,1090.8 L1006.5,1089.8 L1006.9,1088.8 L1007.2,1087.7 L1007.5,1086.7 L1007.7,1085.6 L1007.8,1084.6 L1007.8,1083.5 Z" stroke="#262a63" stroke-width="1.0" fill="#262a63" />
<rect x="1005.5" y="1073" width="0.4" height="17.8" fill="#fff"/>
<rect x="1004" y="1075.3" width="0.5" height="17.8" fill="#fff"/>
<rect x="1002.1" y="1077.5" width="0.6" height="17.8" fill="#fff"/>
<rect x="1000" y="1079.5" width="0.7" height="17.8" fill="#fff"/>
<rect x="997.5" y="1081.5" width="0.8" height="17.8" fill="#fff"/>
<rect x="994.7" y="1083.3" width="0.9" height="17.8" fill="#fff"/>
<rect x="991.7" y="1085" width="1" height="17.8" fill="#fff"/>
<rect x="988.4" y="1086.5" width="1" height="17.8" fill="#fff"/>
<rect x="984.8" y="1087.8" width="1.1" height="17.8" fill="#fff"/>
<rect x="981.1" y="1089" width="1.1" height="17.8" fill="#fff"/>
<rect x="940.4" y="1089" width="1.1" height="17.8" fill="#fff"/>
<rect x="936.7" y="1087.8" width="1.1" height="17.8" fill="#fff"/>
<rect x="933.2" y="1086.5" width="1" height="17.8" fill="#fff"/>
<rect x="929.9" y="1085" width="1" height="17.8" fill="#fff"/>
<rect x="926.9" y="1083.3" width="0.9" height="17.8" fill="#fff"/>
<rect x="924.2" y="1081.5" width="0.8" height="17.8" fill="#fff"/>
<rect x="921.7" y="1079.5" width="0.7" height="17.8" fill="#fff"/>
<rect x="919.5" y="1077.5" width="0.6" height="17.8" fill="#fff"/>
<rect x="917.7" y="1075.3" width="0.5" height="17.8" fill="#fff"/>
<rect x="916.3" y="1073" width="0.4" height="17.8" fill="#fff"/>
<path d="M1004.4,1063.5 L1007.8,1064.2 L1007.7,1065 L1004.3,1065.5 L1004.2,1065.7 L1007.5,1066.6 L1007.3,1067.4 L1003.8,1067.7 L1003.7,1068 L1006.8,1069 L1006.5,1069.7 L1002.9,1069.9 L1002.8,1070.2 L1005.8,1071.4 L1005.4,1072.1 L1001.8,1072.1 L1001.6,1072.3 L1004.3,1073.6 L1003.9,1074.3 L1000.3,1074.1 L1000.1,1074.3 L1002.6,1075.8 L1002,1076.5 L998.4,1076.1 L998.2,1076.3 L1000.5,1077.9 L999.8,1078.6 L996.3,1078 L996.1,1078.2 L998.1,1079.9 L997.3,1080.5 L993.9,1079.8 L993.7,1079.9 L995.4,1081.8 L994.5,1082.3 L991.2,1081.4 L991,1081.6 L992.4,1083.5 L991.4,1084 L988.3,1082.9 L988,1083 L989.1,1085 L988.1,1085.4 L985.2,1084.2 L984.9,1084.4 L985.7,1086.4 L984.6,1086.8 L981.9,1085.4 L981.5,1085.5 L982,1087.6 L980.9,1087.9 L978.4,1086.4 L978,1086.5 L978.2,1088.6 L977,1088.8 L974.7,1087.2 L974.3,1087.3 L974.2,1089.3 L973,1089.5 L971,1087.8 L970.6,1087.9 L970.1,1089.9 L968.9,1090.1 L967.1,1088.2 L966.7,1088.3 L965.9,1090.3 L964.7,1090.4 L963.2,1088.5 L962.9,1088.5 L961.7,1090.4 L960.5,1090.5 L959.3,1088.5 L958.9,1088.5 L957.5,1090.4 L956.3,1090.3 L955.4,1088.3 L955.1,1088.3 L953.4,1090.1 L952.1,1090 L951.6,1087.9 L951.2,1087.9 L949.2,1089.6 L948,1089.4 L947.8,1087.3 L947.5,1087.3 L945.2,1088.9 L944,1088.6 L944.2,1086.6 L943.8,1086.5 L941.3,1088 L940.2,1087.7 L940.6,1085.6 L940.3,1085.5 L937.6,1086.9 L936.5,1086.5 L937.3,1084.5 L936.9,1084.4 L934,1085.6 L933,1085.2 L934.1,1083.2 L933.8,1083 L930.7,1084.1 L929.7,1083.6 L931.1,1081.7 L930.8,1081.6 L927.6,1082.5 L926.7,1082 L928.4,1080.1 L928.1,1079.9 L924.8,1080.7 L924,1080.1 L925.9,1078.4 L925.7,1078.2 L922.2,1078.8 L921.5,1078.1 L923.8,1076.5 L923.6,1076.3 L920,1076.7 L919.4,1076.1 L921.9,1074.5 L921.7,1074.3 L918.1,1074.5 L917.6,1073.9 L920.3,1072.5 L920.2,1072.3 L916.6,1072.3 L916.2,1071.6 L919.1,1070.4 L919,1070.2 L915.4,1070 L915.1,1069.3 L918.2,1068.2 L918.1,1068 L914.5,1067.6 L914.4,1066.9 L917.6,1066 L917.6,1065.7 L914.1,1065.2 L914,1064.5 L917.4,1063.7 L917.4,1063.5 L914,1062.8 L914.1,1062 L917.5,1061.5 L917.6,1061.3 L914.3,1060.4 L914.5,1059.6 L918,1059.3 L918.1,1059 L915,1058 L915.3,1057.3 L918.9,1057.1 L919,1056.8 L916,1055.6 L916.4,1054.9 L920,1054.9 L920.2,1054.7 L917.5,1053.4 L917.9,1052.7 L921.5,1052.9 L921.7,1052.7 L919.2,1051.2 L919.8,1050.5 L923.4,1050.9 L923.6,1050.7 L921.3,1049.1 L922,1048.4 L925.5,1049 L925.7,1048.8 L923.7,1047.1 L924.5,1046.5 L927.9,1047.2 L928.1,1047.1 L926.4,1045.2 L927.3,1044.7 L930.6,1045.6 L930.8,1045.4 L929.4,1043.5 L930.4,1043 L933.5,1044.1 L933.8,1044 L932.7,1042 L933.7,1041.6 L936.6,1042.8 L936.9,1042.6 L936.1,1040.6 L937.2,1040.2 L939.9,1041.6 L940.3,1041.5 L939.8,1039.4 L940.9,1039.1 L943.4,1040.6 L943.8,1040.5 L943.6,1038.4 L944.8,1038.2 L947.1,1039.8 L947.5,1039.7 L947.6,1037.7 L948.8,1037.5 L950.8,1039.2 L951.2,1039.1 L951.7,1037.1 L952.9,1036.9 L954.7,1038.8 L955.1,1038.7 L955.9,1036.7 L957.1,1036.6 L958.6,1038.5 L958.9,1038.5 L960.1,1036.6 L961.3,1036.5 L962.5,1038.5 L962.9,1038.5 L964.3,1036.6 L965.5,1036.7 L966.4,1038.7 L966.7,1038.7 L968.4,1036.9 L969.7,1037 L970.2,1039.1 L970.6,1039.1 L972.6,1037.4 L973.8,1037.6 L974,1039.7 L974.3,1039.7 L976.6,1038.1 L977.8,1038.4 L977.6,1040.4 L978,1040.5 L980.5,1039 L981.6,1039.3 L981.2,1041.4 L981.5,1041.5 L984.2,1040.1 L985.3,1040.5 L984.5,1042.5 L984.9,1042.6 L987.8,1041.4 L988.8,1041.8 L987.7,1043.8 L988,1044 L991.1,1042.9 L992.1,1043.4 L990.7,1045.3 L991,1045.4 L994.2,1044.5 L995.1,1045 L993.4,1046.9 L993.7,1047.1 L997,1046.3 L997.8,1046.9 L995.9,1048.6 L996.1,1048.8 L999.6,1048.2 L1000.3,1048.9 L998,1050.5 L998.2,1050.7 L1001.8,1050.3 L1002.4,1050.9 L999.9,1052.5 L1000.1,1052.7 L1003.7,1052.5 L1004.2,1053.1 L1001.5,1054.5 L1001.6,1054.7 L1005.2,1054.7 L1005.6,1055.4 L1002.7,1056.6 L1002.8,1056.8 L1006.4,1057 L1006.7,1057.7 L1003.6,1058.8 L1003.7,1059 L1007.3,1059.4 L1007.4,1060.1 L1004.2,1061 L1004.2,1061.3 L1007.7,1061.8 L1007.8,1062.5 L1004.4,1063.3 Z" stroke="#262a63" stroke-width="1.8" fill="#fff" />
<ellipse cx="960.6" cy="1063.5" rx="27.5" ry="15.5" stroke="#a8a8b0" stroke-width="2.0" fill="none" />
<ellipse cx="960.6" cy="1063.5" rx="24.5" ry="13.5" stroke="#262a63" stroke-width="1.0" fill="none" />
<path d="M951.8,1060 V1075 Q960.6,1080 969.4,1075 V1060" stroke="#262a63" stroke-width="1.0" fill="#fff" />
<ellipse cx="960.6" cy="1060" rx="8.8" ry="4.5" stroke="#262a63" stroke-width="1.0" fill="#fff" />
<ellipse cx="960.6" cy="1060" rx="3.5" ry="1.8" stroke="#262a63" stroke-width="1.0" fill="#fff" />
<line x1="960.8" y1="1024" x2="960.8" y2="1060" stroke="#262a63" stroke-width="1.1" stroke-dasharray="10 3" stroke-linecap="butt"/>
<path d="M869.5,1030 V1150 H882.6 V1030 Z" stroke="#262a63" stroke-width="1.8" fill="#fff" />
<line x1="869.5" y1="1027" x2="882.6" y2="1027" stroke="#262a63" stroke-width="3.5" />
<path d="M870.5,1006 L873,1004 L879,1004 L881.5,1006 V1025 H870.5 Z" stroke="#262a63" stroke-width="1.2" fill="#fff" />
<line x1="874" y1="1012" x2="878" y2="1016" stroke="#262a63" stroke-width="1.0" />
<path d="M872.8,1004 V968 Q876,966 879.4,968 V1004" stroke="#262a63" stroke-width="1.1" fill="#fff" />
<line x1="876.3" y1="1240" x2="876.3" y2="1300" stroke="#262a63" stroke-width="1.2" stroke-dasharray="10 4" stroke-linecap="butt"/>
<path d="M971.6,1170 L971.5,1172.1 L971.3,1174.2 L970.9,1176.3 L970.4,1178.3 L969.8,1180.4 L969,1182.4 L968,1184.4 L966.9,1186.4 L965.7,1188.4 L964.3,1190.4 L962.8,1192.3 L961.2,1194.1 L959.4,1196 L957.6,1197.8 L955.5,1199.5 L953.4,1201.3 L951.1,1202.9 L948.8,1204.5 L946.3,1206.1 L943.7,1207.6 L941,1209.1 L938.2,1210.4 L935.3,1211.8 L932.3,1213 L929.2,1214.2 L926.1,1215.3 L922.9,1216.4 L919.6,1217.4 L916.2,1218.3 L912.8,1219.1 L909.3,1219.9 L905.7,1220.6 L902.2,1221.2 L898.5,1221.7 L894.9,1222.2 L891.2,1222.5 L887.5,1222.8 L883.8,1223 L880,1223.1 L876.3,1223.2 L872.6,1223.1 L868.8,1223 L865.1,1222.8 L861.4,1222.5 L857.7,1222.2 L854.1,1221.7 L850.4,1221.2 L846.9,1220.6 L843.3,1219.9 L839.8,1219.1 L836.4,1218.3 L833,1217.4 L829.7,1216.4 L826.5,1215.3 L823.4,1214.2 L820.3,1213 L817.3,1211.8 L814.4,1210.4 L811.6,1209.1 L808.9,1207.6 L806.3,1206.1 L803.8,1204.5 L801.5,1202.9 L799.2,1201.3 L797.1,1199.5 L795,1197.8 L793.2,1196 L791.4,1194.1 L789.8,1192.3 L788.3,1190.4 L786.9,1188.4 L785.7,1186.4 L784.6,1184.4 L783.6,1182.4 L782.8,1180.4 L782.2,1178.3 L781.7,1176.3 L781.3,1174.2 L781.1,1172.1 L781,1170 L781,1187 L781.1,1189.1 L781.3,1191.2 L781.7,1193.3 L782.2,1195.3 L782.8,1197.4 L783.6,1199.4 L784.6,1201.4 L785.7,1203.4 L786.9,1205.4 L788.3,1207.4 L789.8,1209.3 L791.4,1211.1 L793.2,1213 L795,1214.8 L797.1,1216.5 L799.2,1218.3 L801.5,1219.9 L803.8,1221.5 L806.3,1223.1 L808.9,1224.6 L811.6,1226.1 L814.4,1227.4 L817.3,1228.8 L820.3,1230 L823.4,1231.2 L826.5,1232.3 L829.7,1233.4 L833,1234.4 L836.4,1235.3 L839.8,1236.1 L843.3,1236.9 L846.9,1237.6 L850.4,1238.2 L854.1,1238.7 L857.7,1239.2 L861.4,1239.5 L865.1,1239.8 L868.8,1240 L872.6,1240.1 L876.3,1240.2 L880,1240.1 L883.8,1240 L887.5,1239.8 L891.2,1239.5 L894.9,1239.2 L898.5,1238.7 L902.2,1238.2 L905.7,1237.6 L909.3,1236.9 L912.8,1236.1 L916.2,1235.3 L919.6,1234.4 L922.9,1233.4 L926.1,1232.3 L929.2,1231.2 L932.3,1230 L935.3,1228.8 L938.2,1227.4 L941,1226.1 L943.7,1224.6 L946.3,1223.1 L948.8,1221.5 L951.1,1219.9 L953.4,1218.3 L955.5,1216.5 L957.6,1214.8 L959.4,1213 L961.2,1211.1 L962.8,1209.3 L964.3,1207.4 L965.7,1205.4 L966.9,1203.4 L968,1201.4 L969,1199.4 L969.8,1197.4 L970.4,1195.3 L970.9,1193.3 L971.3,1191.2 L971.5,1189.1 L971.6,1187 Z" stroke="#262a63" stroke-width="1.0" fill="#262a63" />
<rect x="971" y="1176.9" width="0.4" height="14.8" fill="#fff"/>
<rect x="969.9" y="1180.6" width="0.6" height="14.8" fill="#fff"/>
<rect x="968.4" y="1184.4" width="0.9" height="14.8" fill="#fff"/>
<rect x="966.4" y="1188" width="1.1" height="14.8" fill="#fff"/>
<rect x="964" y="1191.6" width="1.4" height="14.8" fill="#fff"/>
<rect x="961.1" y="1195" width="1.6" height="14.8" fill="#fff"/>
<rect x="957.8" y="1198.3" width="1.8" height="14.8" fill="#fff"/>
<rect x="954" y="1201.5" width="2" height="14.8" fill="#fff"/>
<rect x="949.9" y="1204.6" width="2.2" height="14.8" fill="#fff"/>
<rect x="945.4" y="1207.4" width="2.4" height="14.8" fill="#fff"/>
<rect x="940.5" y="1210.1" width="2.6" height="14.8" fill="#fff"/>
<rect x="935.4" y="1212.6" width="2.8" height="14.8" fill="#fff"/>
<rect x="929.9" y="1214.9" width="2.9" height="14.8" fill="#fff"/>
<rect x="924.1" y="1216.9" width="3" height="14.8" fill="#fff"/>
<rect x="918.1" y="1218.8" width="3.2" height="14.8" fill="#fff"/>
<rect x="911.9" y="1220.3" width="3.3" height="14.8" fill="#fff"/>
<rect x="905.5" y="1221.7" width="3.4" height="14.8" fill="#fff"/>
<rect x="898.9" y="1222.7" width="3.4" height="14.8" fill="#fff"/>
<rect x="892.3" y="1223.5" width="3.5" height="14.8" fill="#fff"/>
<rect x="885.5" y="1224.1" width="3.5" height="14.8" fill="#fff"/>
<rect x="878.7" y="1224.3" width="3.5" height="14.8" fill="#fff"/>
<rect x="871.9" y="1224.3" width="3.5" height="14.8" fill="#fff"/>
<rect x="865.2" y="1224.1" width="3.5" height="14.8" fill="#fff"/>
<rect x="858.4" y="1223.5" width="3.5" height="14.8" fill="#fff"/>
<rect x="851.8" y="1222.7" width="3.4" height="14.8" fill="#fff"/>
<rect x="845.3" y="1221.7" width="3.4" height="14.8" fill="#fff"/>
<rect x="839" y="1220.3" width="3.3" height="14.8" fill="#fff"/>
<rect x="832.8" y="1218.8" width="3.2" height="14.8" fill="#fff"/>
<rect x="826.9" y="1216.9" width="3" height="14.8" fill="#fff"/>
<rect x="821.2" y="1214.9" width="2.9" height="14.8" fill="#fff"/>
<rect x="815.8" y="1212.6" width="2.8" height="14.8" fill="#fff"/>
<rect x="810.7" y="1210.1" width="2.6" height="14.8" fill="#fff"/>
<rect x="805.9" y="1207.4" width="2.4" height="14.8" fill="#fff"/>
<rect x="801.5" y="1204.6" width="2.2" height="14.8" fill="#fff"/>
<rect x="797.5" y="1201.5" width="2" height="14.8" fill="#fff"/>
<rect x="793.9" y="1198.3" width="1.8" height="14.8" fill="#fff"/>
<rect x="790.7" y="1195" width="1.6" height="14.8" fill="#fff"/>
<rect x="787.9" y="1191.6" width="1.4" height="14.8" fill="#fff"/>
<rect x="785.6" y="1188" width="1.1" height="14.8" fill="#fff"/>
<rect x="783.7" y="1184.4" width="0.9" height="14.8" fill="#fff"/>
<rect x="782.3" y="1180.6" width="0.6" height="14.8" fill="#fff"/>
<rect x="781.4" y="1176.9" width="0.4" height="14.8" fill="#fff"/>
<path d="M966.8,1170 L971.6,1171.1 L971.5,1172.3 L966.6,1173.2 L966.6,1173.6 L971.2,1174.9 L971,1176.1 L966,1176.8 L965.9,1177.2 L970.3,1178.7 L970,1179.8 L964.9,1180.4 L964.7,1180.7 L969,1182.4 L968.5,1183.5 L963.3,1183.9 L963.1,1184.2 L967.1,1186.1 L966.5,1187.2 L961.3,1187.3 L961.1,1187.6 L964.9,1189.6 L964.1,1190.7 L958.9,1190.6 L958.6,1191 L962.1,1193.1 L961.2,1194.1 L956,1193.9 L955.7,1194.2 L958.9,1196.5 L957.9,1197.5 L952.8,1197 L952.4,1197.3 L955.3,1199.7 L954.2,1200.6 L949.1,1200 L948.7,1200.3 L951.4,1202.8 L950.1,1203.7 L945.1,1202.8 L944.7,1203.1 L947,1205.7 L945.6,1206.5 L940.7,1205.5 L940.3,1205.7 L942.2,1208.4 L940.7,1209.2 L936.1,1207.9 L935.6,1208.2 L937.2,1210.9 L935.6,1211.6 L931.1,1210.2 L930.5,1210.4 L931.8,1213.2 L930.1,1213.9 L925.8,1212.3 L925.2,1212.5 L926.1,1215.3 L924.3,1215.9 L920.2,1214.1 L919.7,1214.3 L920.2,1217.2 L918.3,1217.7 L914.5,1215.8 L913.9,1215.9 L914,1218.8 L912.1,1219.3 L908.5,1217.2 L907.9,1217.3 L907.7,1220.2 L905.7,1220.6 L902.4,1218.4 L901.8,1218.5 L901.2,1221.3 L899.2,1221.6 L896.2,1219.3 L895.5,1219.3 L894.6,1222.2 L892.6,1222.4 L889.8,1219.9 L889.2,1220 L887.8,1222.8 L885.8,1222.9 L883.4,1220.3 L882.8,1220.4 L881.1,1223.1 L879,1223.2 L876.9,1220.5 L876.3,1220.5 L874.3,1223.2 L872.2,1223.1 L870.5,1220.4 L869.8,1220.4 L867.5,1222.9 L865.4,1222.8 L864.1,1220 L863.4,1220 L860.7,1222.5 L858.7,1222.3 L857.7,1219.4 L857.1,1219.3 L854.1,1221.7 L852.1,1221.4 L851.4,1218.6 L850.8,1218.5 L847.5,1220.7 L845.6,1220.3 L845.3,1217.4 L844.7,1217.3 L841.1,1219.4 L839.2,1219 L839.3,1216.1 L838.7,1215.9 L834.9,1217.9 L833,1217.4 L833.5,1214.5 L832.9,1214.3 L828.8,1216.1 L827.1,1215.5 L827.9,1212.7 L827.4,1212.5 L823.1,1214.1 L821.4,1213.5 L822.6,1210.6 L822.1,1210.4 L817.6,1211.9 L816,1211.2 L817.5,1208.4 L817,1208.2 L812.4,1209.4 L810.9,1208.7 L812.8,1206 L812.3,1205.7 L807.5,1206.8 L806.1,1206 L808.3,1203.3 L807.9,1203.1 L803,1204 L801.7,1203.1 L804.2,1200.6 L803.9,1200.3 L798.8,1200.9 L797.6,1200 L800.5,1197.6 L800.2,1197.3 L795,1197.8 L794,1196.8 L797.2,1194.5 L796.9,1194.2 L791.7,1194.5 L790.8,1193.5 L794.2,1191.3 L794,1191 L788.8,1191 L788,1190 L791.7,1188 L791.5,1187.6 L786.3,1187.5 L785.7,1186.4 L789.7,1184.6 L789.5,1184.2 L784.3,1183.9 L783.8,1182.8 L788,1181.1 L787.9,1180.7 L782.8,1180.2 L782.4,1179.1 L786.8,1177.5 L786.7,1177.2 L781.7,1176.4 L781.5,1175.3 L786.1,1174 L786,1173.6 L781.1,1172.7 L781,1171.5 L785.8,1170.4 L785.8,1170 L781,1168.9 L781.1,1167.7 L786,1166.8 L786,1166.4 L781.4,1165.1 L781.6,1163.9 L786.6,1163.2 L786.7,1162.8 L782.3,1161.3 L782.6,1160.2 L787.7,1159.6 L787.9,1159.3 L783.6,1157.6 L784.1,1156.5 L789.3,1156.1 L789.5,1155.8 L785.5,1153.9 L786.1,1152.8 L791.3,1152.7 L791.5,1152.4 L787.7,1150.4 L788.5,1149.3 L793.7,1149.4 L794,1149 L790.5,1146.9 L791.4,1145.9 L796.6,1146.1 L796.9,1145.8 L793.7,1143.5 L794.7,1142.5 L799.8,1143 L800.2,1142.7 L797.3,1140.3 L798.4,1139.4 L803.5,1140 L803.9,1139.7 L801.2,1137.2 L802.5,1136.3 L807.5,1137.2 L807.9,1136.9 L805.6,1134.3 L807,1133.5 L811.9,1134.5 L812.3,1134.3 L810.4,1131.6 L811.9,1130.8 L816.5,1132.1 L817,1131.8 L815.4,1129.1 L817,1128.4 L821.5,1129.8 L822.1,1129.6 L820.8,1126.8 L822.5,1126.1 L826.8,1127.7 L827.4,1127.5 L826.5,1124.7 L828.3,1124.1 L832.4,1125.9 L832.9,1125.7 L832.4,1122.8 L834.3,1122.3 L838.1,1124.2 L838.7,1124.1 L838.6,1121.2 L840.5,1120.7 L844.1,1122.8 L844.7,1122.7 L844.9,1119.8 L846.9,1119.4 L850.2,1121.6 L850.8,1121.5 L851.4,1118.7 L853.4,1118.4 L856.4,1120.7 L857.1,1120.7 L858,1117.8 L860,1117.6 L862.8,1120.1 L863.4,1120 L864.8,1117.2 L866.8,1117.1 L869.2,1119.7 L869.8,1119.6 L871.5,1116.9 L873.6,1116.8 L875.7,1119.5 L876.3,1119.5 L878.3,1116.8 L880.4,1116.9 L882.1,1119.6 L882.8,1119.6 L885.1,1117.1 L887.2,1117.2 L888.5,1120 L889.2,1120 L891.9,1117.5 L893.9,1117.7 L894.9,1120.6 L895.5,1120.7 L898.5,1118.3 L900.5,1118.6 L901.2,1121.4 L901.8,1121.5 L905.1,1119.3 L907,1119.7 L907.3,1122.6 L907.9,1122.7 L911.5,1120.6 L913.4,1121 L913.3,1123.9 L913.9,1124.1 L917.7,1122.1 L919.6,1122.6 L919.1,1125.5 L919.7,1125.7 L923.8,1123.9 L925.5,1124.5 L924.7,1127.3 L925.2,1127.5 L929.5,1125.9 L931.2,1126.5 L930,1129.4 L930.5,1129.6 L935,1128.1 L936.6,1128.8 L935.1,1131.6 L935.6,1131.8 L940.2,1130.6 L941.7,1131.3 L939.8,1134 L940.3,1134.3 L945.1,1133.2 L946.5,1134 L944.3,1136.7 L944.7,1136.9 L949.6,1136 L950.9,1136.9 L948.4,1139.4 L948.7,1139.7 L953.8,1139.1 L955,1140 L952.1,1142.4 L952.4,1142.7 L957.6,1142.2 L958.6,1143.2 L955.4,1145.5 L955.7,1145.8 L960.9,1145.5 L961.8,1146.5 L958.4,1148.7 L958.6,1149 L963.8,1149 L964.6,1150 L960.9,1152 L961.1,1152.4 L966.3,1152.5 L966.9,1153.6 L962.9,1155.4 L963.1,1155.8 L968.3,1156.1 L968.8,1157.2 L964.6,1158.9 L964.7,1159.3 L969.8,1159.8 L970.2,1160.9 L965.8,1162.5 L965.9,1162.8 L970.9,1163.6 L971.1,1164.7 L966.5,1166 L966.6,1166.4 L971.5,1167.3 L971.6,1168.5 L966.8,1169.6 Z" stroke="#262a63" stroke-width="1.5" fill="#fff" />
<ellipse cx="876.3" cy="1172" rx="86.5" ry="47" stroke="#b0b0b6" stroke-width="1.6" fill="none" />
<ellipse cx="876.3" cy="1173.5" rx="84.5" ry="45.5" stroke="#262a63" stroke-width="1.0" fill="none" />
<path d="M879.1,1170.3 L898,1135.8 L872.5,1165.7 Z" stroke="#262a63" stroke-width="1.1" fill="#fff" />
<line x1="878.4" y1="1169.8" x2="898" y2="1135.8" stroke="#262a63" stroke-width="2.3" />
<path d="M877.3,1164.3 L822.1,1146 L874.3,1171.7 Z" stroke="#262a63" stroke-width="1.1" fill="#fff" />
<line x1="877" y1="1165" x2="822.1" y2="1146" stroke="#262a63" stroke-width="2.3" />
<path d="M875.8,1172 L950.9,1167.3 L875.8,1164 Z" stroke="#262a63" stroke-width="1.1" fill="#fff" />
<line x1="875.8" y1="1171.2" x2="950.9" y2="1167.3" stroke="#262a63" stroke-width="2.3" />
<path d="M874.8,1164.1 L801.7,1187.7 L876.8,1171.9 Z" stroke="#262a63" stroke-width="1.1" fill="#fff" />
<line x1="875" y1="1164.9" x2="801.7" y2="1187.7" stroke="#262a63" stroke-width="2.3" />
<path d="M872.1,1166.4 L853.6,1219.2 L879.5,1169.6 Z" stroke="#262a63" stroke-width="1.1" fill="#fff" />
<line x1="872.9" y1="1166.7" x2="853.6" y2="1219.2" stroke="#262a63" stroke-width="2.3" />
<path d="M873.4,1171.2 L930.5,1210 L878.2,1164.8 Z" stroke="#262a63" stroke-width="1.1" fill="#fff" />
<line x1="873.9" y1="1170.5" x2="930.5" y2="1210" stroke="#262a63" stroke-width="2.3" />
<path d="M863.8,1152 V1180 Q875.8,1187 887.9,1180 V1152" stroke="#262a63" stroke-width="1.2" fill="#fff" />
<ellipse cx="875.8" cy="1152" rx="12" ry="5" stroke="#262a63" stroke-width="1.2" fill="#fff" />
<path d="M864,1160 Q875.8,1166 887.6,1160" stroke="#a0a0a8" stroke-width="1.6" fill="none" />
<path d="M869.5,1040 V1152 Q876,1156 882.6,1152 V1040" stroke="#262a63" stroke-width="1.8" fill="#fff" />
<line x1="876.3" y1="1240" x2="876.3" y2="1302" stroke="#262a63" stroke-width="1.2" stroke-dasharray="10 4" stroke-linecap="butt"/>
<path d="M848.5,1316.6 V1319 A27.8,15.9 0 0 0 904.1,1319 V1316.6" stroke="#262a63" stroke-width="1.0" fill="#fff" />
<ellipse cx="876.3" cy="1316.6" rx="27.8" ry="15.9" stroke="#262a63" stroke-width="1.2" fill="#fff" />
<ellipse cx="876.3" cy="1310" rx="7.5" ry="4.2" stroke="#262a63" stroke-width="1.0" fill="#fff" />
<ellipse cx="876.3" cy="1310" rx="3.6" ry="2" stroke="#262a63" stroke-width="1.0" fill="#fff" />
<path d="M767.6,1423.7 L767.6,1452.3 L772,1478.7 L778.6,1494 L789.5,1500.6 L776.4,1513.8 L776.4,1524.8 L793.9,1529.2 L813.7,1520.4 L897.2,1540.2 L897.2,1551.1 L910.3,1555.5 L925.7,1548.9 L980.6,1559.9 L1035.5,1529.2 L1037.7,1516 L1042.1,1502.8 L1043,1489.6 L1039.9,1487 L1011.4,1454.5 L1001.5,1452.3 L997.1,1445.7 L998.2,1438 L999.3,1432.5 C990,1415 978,1400 960.8,1387.5 C940,1374 910,1365 876.3,1364 C840,1364 810,1373 789.5,1386.4 C778,1396 770,1410 767.6,1423.7 Z" stroke="#262a63" stroke-width="0.9" fill="#fff" />
<path d="M767.6,1423.7 C770,1410 778,1396 789.5,1386.4 C810,1373 840,1364 876.3,1364 C910,1365 940,1374 960.8,1387.5 C978,1400 990,1415 999.3,1432.5 L998.2,1438 L997.1,1445.7 L1001.5,1452.3 L1011.4,1454.5 L1035.5,1487.4 L1040,1490" stroke="#262a63" stroke-width="1.8" fill="none" />
<path d="M772,1423 C775,1411 782,1399 792,1390 C812,1377 842,1368 876.3,1367.5 C909,1368.5 938,1377 958,1390 C975,1402 987,1418 996,1433" stroke="#262a63" stroke-width="0.7" fill="none" />
<path d="M1001.5,1456 L1011.4,1458 L1033,1489" stroke="#262a63" stroke-width="0.7" fill="none" />
<path d="M767.6,1423.7 C768,1433 769,1438 770.9,1441.3 C773,1446 775,1449 778.6,1452.3 C783,1457 788,1460 793.9,1463.3 L815.9,1474.3 L837.9,1482 L859.8,1487.4 L881.8,1491.8 L897.2,1496.2 C900,1494.5 902,1494 903.7,1494 L916.9,1494 C921,1495 923,1497 925.7,1500.6 L947.7,1506.1 L969.6,1511.6 L991.6,1514.9 L1013.6,1511.6 L1031.1,1502.8 L1035.5,1496.2" stroke="#262a63" stroke-width="1.8" fill="none" />
<path d="M772,1433 C774,1444 779,1452 788,1459 L815.9,1478 L859.8,1491.4 L897.2,1500" stroke="#262a63" stroke-width="0.7" fill="none" />
<path d="M780.7,1441.3 C785,1432 788,1427 793.9,1423.7 C800,1419 808,1417 815.9,1415 C830,1412 840,1410.5 848.8,1409.5 C860,1408 868,1407.3 876.3,1407.3 C888,1407.3 895,1407.8 903.7,1408.4 C915,1410 925,1412 936.7,1415 C945,1418 952,1421 958.7,1425.9 C962,1428 966,1431 969.6,1434.7 C974,1439 977,1442 980.6,1445.7 L991.6,1463.3 L1002.6,1480.8 L1020.2,1507.2" stroke="#262a63" stroke-width="0.7" fill="none" />
<path d="M780.7,1441.3 C785,1432 788,1427 793.9,1423.7 C800,1419 808,1417 815.9,1415 C830,1412 840,1410.5 848.8,1409.5 C860,1408 868,1407.3 876.3,1407.3 C888,1407.3 895,1407.8 903.7,1408.4 C915,1410 925,1412 936.7,1415 C945,1418 952,1421 958.7,1425.9 C962,1428 966,1431 969.6,1434.7 C974,1439 977,1442 980.6,1445.7 L991.6,1463.3 L1002.6,1480.8 L1020.2,1507.2" stroke="#7a7ca0" stroke-width="0.6" fill="none" transform="translate(0.5,3.5)"/>
<line x1="974" y1="1406" x2="974" y2="1478" stroke="#262a63" stroke-width="0.6" />
<path d="M996,1441.3 L996,1491.8 Q1003,1497 1011.4,1498.4 L1011.4,1454.5" stroke="#262a63" stroke-width="1.0" fill="#fff" />
<line x1="1000.5" y1="1450" x2="1000.5" y2="1494" stroke="#262a63" stroke-width="0.6" />
<line x1="772.5" y1="1430" x2="776" y2="1488" stroke="#262a63" stroke-width="0.6" />
<ellipse cx="876.3" cy="1470.3" rx="25.3" ry="13.7" stroke="#262a63" stroke-width="1.2" fill="#fff" />
<ellipse cx="876.3" cy="1471.5" rx="24.2" ry="12.4" stroke="#262a63" stroke-width="0.6" fill="none" />
<rect x="891.6" y="1416.4" width="2.4" height="2.2" fill="#262a63"/><rect x="888.3" y="1424.3" width="2.4" height="2.2" fill="#262a63"/>
<path d="M897.2,1496.2 L897.2,1540.2 M925.7,1500.6 L925.7,1548.9" stroke="#262a63" stroke-width="1.1" fill="none" />
<path d="M789.5,1500.6 L776.4,1513.8 L776.4,1524.8 L793.9,1529.2 L813.7,1520.4 L813.7,1513.8 Z" stroke="#262a63" stroke-width="1.0" fill="#fff" />
<path d="M776.4,1516 L793.9,1520.5 L813.7,1512" stroke="#262a63" stroke-width="0.6" fill="none" />
<ellipse cx="788.4" cy="1514.9" rx="5.5" ry="3.5" stroke="#262a63" stroke-width="1.0" fill="#fff" />
<path d="M897.2,1535.8 L897.2,1551.1 L910.3,1555.5 L925.7,1548.9 L925.7,1538 Q912,1528 897.2,1535.8 Z" stroke="#262a63" stroke-width="1.0" fill="#fff" />
<ellipse cx="909.2" cy="1543.4" rx="6" ry="3.5" stroke="#262a63" stroke-width="1.0" fill="#fff" />
<line x1="910.3" y1="1549" x2="910.3" y2="1555.5" stroke="#262a63" stroke-width="0.6" />
<path d="M813.7,1513.8 L897.2,1533 M925.7,1541 L980.6,1552" stroke="#262a63" stroke-width="0.6" fill="none" />
<line x1="833" y1="1494" x2="833" y2="1523" stroke="#262a63" stroke-width="0.6" />
<path d="M980.6,1538 L980.6,1559.9 M980.6,1538 L1035.5,1520" stroke="#262a63" stroke-width="0.7" fill="none" />
<line x1="1020.2" y1="1511" x2="1020.2" y2="1540" stroke="#262a63" stroke-width="0.5" />
<path d="M826.9,1484.1 V1494.1 Q832.4,1497.1 837.9,1494.1 V1484.1" stroke="#262a63" stroke-width="1.0" fill="#fff" />
<ellipse cx="832.4" cy="1484.1" rx="5.5" ry="3.2" stroke="#262a63" stroke-width="1.0" fill="#fff" />
<ellipse cx="832.4" cy="1484.1" rx="1.5" ry="1.1" stroke="#262a63" stroke-width="0.6" fill="#262a63" />
<path d="M980.6,1520.4 V1530.4 Q986.1,1533.4 991.6,1530.4 V1520.4" stroke="#262a63" stroke-width="1.0" fill="#fff" />
<ellipse cx="986.1" cy="1520.4" rx="5.5" ry="3.2" stroke="#262a63" stroke-width="1.0" fill="#fff" />
<ellipse cx="986.1" cy="1520.4" rx="1.5" ry="1.1" stroke="#262a63" stroke-width="0.6" fill="#262a63" />
<path d="M1035.5,1489.6 V1499.6 Q1041,1502.6 1046.5,1499.6 V1489.6" stroke="#262a63" stroke-width="1.0" fill="#fff" />
<ellipse cx="1041" cy="1489.6" rx="5.5" ry="3.2" stroke="#262a63" stroke-width="1.0" fill="#fff" />
<ellipse cx="1041" cy="1489.6" rx="1.5" ry="1.1" stroke="#262a63" stroke-width="0.6" fill="#262a63" />
<path d="M790.1,1379.8 V1385.8 M802.1,1379.8 V1385.8" stroke="#262a63" stroke-width="0.8" fill="none" />
<ellipse cx="796.1" cy="1379.8" rx="6" ry="3.4" stroke="#262a63" stroke-width="1.0" fill="#fff" />
<ellipse cx="796.1" cy="1379.8" rx="1.5" ry="1.1" stroke="#262a63" stroke-width="0.6" fill="#262a63" />
<path d="M972.4,1399.6 V1405.6 M984.4,1399.6 V1405.6" stroke="#262a63" stroke-width="0.8" fill="none" />
<ellipse cx="978.4" cy="1399.6" rx="6" ry="3.4" stroke="#262a63" stroke-width="1.0" fill="#fff" />
<ellipse cx="978.4" cy="1399.6" rx="1.5" ry="1.1" stroke="#262a63" stroke-width="0.6" fill="#262a63" />
<ellipse cx="960.8" cy="1507.2" rx="7" ry="3.8" stroke="#262a63" stroke-width="1.1" fill="#fff" />
<ellipse cx="960.8" cy="1507.2" rx="3" ry="1.6" stroke="#262a63" stroke-width="0.8" fill="#fff" />
<path d="M964,1511 L992,1514.5 M966,1509 L994,1513 M975,1504 L980,1497" stroke="#262a63" stroke-width="1.0" fill="none" />
<line x1="876.3" y1="1332" x2="876.3" y2="1470" stroke="#262a63" stroke-width="1.2" stroke-dasharray="16 4 4 4" stroke-linecap="butt"/>
<line x1="960.8" y1="1110" x2="960.8" y2="1615" stroke="#262a63" stroke-width="1.2" stroke-dasharray="30 4 5 4" stroke-linecap="butt"/>
<path d="M958.6,1617 V1624 H963 V1617 Z" stroke="#262a63" stroke-width="0.9" fill="#fff" />
<ellipse cx="960.8" cy="1626" rx="5" ry="2.8" stroke="#262a63" stroke-width="1.0" fill="#fff" />
<ellipse cx="960.8" cy="1626" rx="1.8" ry="1" stroke="#262a63" stroke-width="0.6" fill="#262a63" />
<line x1="300.5" y1="1185" x2="300.5" y2="1380" stroke="#262a63" stroke-width="1.2" stroke-dasharray="10 4" stroke-linecap="butt"/>
<line x1="341.3" y1="1110" x2="341.3" y2="1118" stroke="#262a63" stroke-width="1.0" stroke-dasharray="3 2" stroke-linecap="butt"/>
<ellipse cx="341.7" cy="1106" rx="5.2" ry="3.6" stroke="#262a63" stroke-width="2.0" fill="#fff" />
<ellipse cx="341.3" cy="1106" rx="1.6" ry="1.2" stroke="#262a63" stroke-width="0.8" fill="#262a63" />
<path d="M297.8,1112 V1137 Q301.3,1140.5 304.8,1137 V1112 Z" stroke="#262a63" stroke-width="1.0" fill="#262a63" />
<line x1="301.3" y1="1116" x2="301.3" y2="1136" stroke="#55587e" stroke-width="1.6" />
<ellipse cx="301.5" cy="1111.9" rx="6.2" ry="3.4" stroke="#262a63" stroke-width="1.0" fill="#262a63" />
<ellipse cx="301.1" cy="1175.9" rx="10.3" ry="6.8" stroke="#262a63" stroke-width="1.0" fill="#262a63" />
<ellipse cx="301.1" cy="1175.6" rx="7" ry="4.2" stroke="#fff" stroke-width="0.8" fill="#fff" />
<ellipse cx="301.1" cy="1175.6" rx="4" ry="2.3" stroke="#262a63" stroke-width="0.8" fill="#262a63" />
<path d="M295,1208 Q301,1204 307.4,1208 V1220 Q301,1224 295,1220 Z" stroke="#262a63" stroke-width="1.0" fill="#262a63" />
<path d="M297.5,1212 H305 V1219 Q301,1221 297.5,1219 Z" stroke="#262a63" stroke-width="0.8" fill="#fff" />
<path d="M295,1227 Q301,1223 307.4,1227 V1239 Q301,1243 295,1239 Z" stroke="#262a63" stroke-width="1.0" fill="#262a63" />
<path d="M297.5,1231 H305 V1238 Q301,1240 297.5,1238 Z" stroke="#262a63" stroke-width="0.8" fill="#fff" />
<ellipse cx="300.8" cy="1386" rx="6.2" ry="6" stroke="#262a63" stroke-width="1.0" fill="#262a63" />
<path d="M436.6,1294 L436.5,1296 L436.3,1298.1 L435.9,1300.1 L435.4,1302.2 L434.8,1304.2 L434,1306.2 L433,1308.1 L431.9,1310.1 L430.7,1312 L429.3,1313.9 L427.8,1315.8 L426.2,1317.7 L424.4,1319.5 L422.6,1321.2 L420.5,1323 L418.4,1324.6 L416.1,1326.3 L413.8,1327.9 L411.3,1329.4 L408.7,1330.9 L406,1332.3 L403.2,1333.6 L400.3,1334.9 L397.3,1336.2 L394.2,1337.3 L391.1,1338.4 L387.9,1339.5 L384.6,1340.4 L381.2,1341.3 L377.8,1342.2 L374.3,1342.9 L370.7,1343.6 L367.2,1344.2 L363.5,1344.7 L359.9,1345.1 L356.2,1345.5 L352.5,1345.8 L348.8,1346 L345,1346.1 L341.3,1346.1 L337.6,1346.1 L333.8,1346 L330.1,1345.8 L326.4,1345.5 L322.7,1345.1 L319.1,1344.7 L315.4,1344.2 L311.9,1343.6 L308.3,1342.9 L304.8,1342.2 L301.4,1341.3 L298,1340.4 L294.7,1339.5 L291.5,1338.4 L288.4,1337.3 L285.3,1336.2 L282.3,1334.9 L279.4,1333.6 L276.6,1332.3 L273.9,1330.9 L271.3,1329.4 L268.8,1327.9 L266.5,1326.3 L264.2,1324.6 L262.1,1323 L260,1321.2 L258.2,1319.5 L256.4,1317.7 L254.8,1315.8 L253.3,1313.9 L251.9,1312 L250.7,1310.1 L249.6,1308.1 L248.6,1306.2 L247.8,1304.2 L247.2,1302.2 L246.7,1300.1 L246.3,1298.1 L246.1,1296 L246,1294 L246,1314 L246.1,1316 L246.3,1318.1 L246.7,1320.1 L247.2,1322.2 L247.8,1324.2 L248.6,1326.2 L249.6,1328.1 L250.7,1330.1 L251.9,1332 L253.3,1333.9 L254.8,1335.8 L256.4,1337.7 L258.2,1339.5 L260,1341.2 L262.1,1343 L264.2,1344.6 L266.5,1346.3 L268.8,1347.9 L271.3,1349.4 L273.9,1350.9 L276.6,1352.3 L279.4,1353.6 L282.3,1354.9 L285.3,1356.2 L288.4,1357.3 L291.5,1358.4 L294.7,1359.5 L298,1360.4 L301.4,1361.3 L304.8,1362.2 L308.3,1362.9 L311.9,1363.6 L315.4,1364.2 L319.1,1364.7 L322.7,1365.1 L326.4,1365.5 L330.1,1365.8 L333.8,1366 L337.6,1366.1 L341.3,1366.1 L345,1366.1 L348.8,1366 L352.5,1365.8 L356.2,1365.5 L359.9,1365.1 L363.5,1364.7 L367.2,1364.2 L370.7,1363.6 L374.3,1362.9 L377.8,1362.2 L381.2,1361.3 L384.6,1360.4 L387.9,1359.5 L391.1,1358.4 L394.2,1357.3 L397.3,1356.2 L400.3,1354.9 L403.2,1353.6 L406,1352.3 L408.7,1350.9 L411.3,1349.4 L413.8,1347.9 L416.1,1346.3 L418.4,1344.6 L420.5,1343 L422.6,1341.2 L424.4,1339.5 L426.2,1337.7 L427.8,1335.8 L429.3,1333.9 L430.7,1332 L431.9,1330.1 L433,1328.1 L434,1326.2 L434.8,1324.2 L435.4,1322.2 L435.9,1320.1 L436.3,1318.1 L436.5,1316 L436.6,1314 Z" stroke="#262a63" stroke-width="1.0" fill="#262a63" />
<rect x="435.9" y="1300.8" width="0.4" height="17.8" fill="#b4b6c6"/>
<rect x="434.9" y="1304.5" width="0.7" height="17.8" fill="#b4b6c6"/>
<rect x="433.4" y="1308.1" width="0.9" height="17.8" fill="#b4b6c6"/>
<rect x="431.4" y="1311.7" width="1.2" height="17.8" fill="#b4b6c6"/>
<rect x="428.9" y="1315.1" width="1.5" height="17.8" fill="#b4b6c6"/>
<rect x="426" y="1318.5" width="1.7" height="17.8" fill="#b4b6c6"/>
<rect x="422.7" y="1321.8" width="1.9" height="17.8" fill="#b4b6c6"/>
<rect x="419" y="1324.9" width="2.2" height="17.8" fill="#b4b6c6"/>
<rect x="414.8" y="1327.9" width="2.4" height="17.8" fill="#b4b6c6"/>
<rect x="410.3" y="1330.7" width="2.6" height="17.8" fill="#b4b6c6"/>
<rect x="405.4" y="1333.4" width="2.8" height="17.8" fill="#b4b6c6"/>
<rect x="400.3" y="1335.8" width="3" height="17.8" fill="#b4b6c6"/>
<rect x="394.8" y="1338" width="3.1" height="17.8" fill="#b4b6c6"/>
<rect x="389" y="1340" width="3.3" height="17.8" fill="#b4b6c6"/>
<rect x="383" y="1341.8" width="3.4" height="17.8" fill="#b4b6c6"/>
<rect x="376.8" y="1343.4" width="3.5" height="17.8" fill="#b4b6c6"/>
<rect x="370.4" y="1344.7" width="3.6" height="17.8" fill="#b4b6c6"/>
<rect x="363.8" y="1345.7" width="3.7" height="17.8" fill="#b4b6c6"/>
<rect x="357.1" y="1346.5" width="3.7" height="17.8" fill="#b4b6c6"/>
<rect x="350.4" y="1347" width="3.8" height="17.8" fill="#b4b6c6"/>
<rect x="343.6" y="1347.3" width="3.8" height="17.8" fill="#b4b6c6"/>
<rect x="336.8" y="1347.3" width="3.8" height="17.8" fill="#b4b6c6"/>
<rect x="330" y="1347" width="3.8" height="17.8" fill="#b4b6c6"/>
<rect x="323.3" y="1346.5" width="3.7" height="17.8" fill="#b4b6c6"/>
<rect x="316.7" y="1345.7" width="3.7" height="17.8" fill="#b4b6c6"/>
<rect x="310.2" y="1344.7" width="3.6" height="17.8" fill="#b4b6c6"/>
<rect x="303.8" y="1343.4" width="3.5" height="17.8" fill="#b4b6c6"/>
<rect x="297.7" y="1341.8" width="3.4" height="17.8" fill="#b4b6c6"/>
<rect x="291.7" y="1340" width="3.3" height="17.8" fill="#b4b6c6"/>
<rect x="286.1" y="1338" width="3.1" height="17.8" fill="#b4b6c6"/>
<rect x="280.7" y="1335.8" width="3" height="17.8" fill="#b4b6c6"/>
<rect x="275.6" y="1333.4" width="2.8" height="17.8" fill="#b4b6c6"/>
<rect x="270.8" y="1330.7" width="2.6" height="17.8" fill="#b4b6c6"/>
<rect x="266.4" y="1327.9" width="2.4" height="17.8" fill="#b4b6c6"/>
<rect x="262.4" y="1324.9" width="2.2" height="17.8" fill="#b4b6c6"/>
<rect x="258.8" y="1321.8" width="1.9" height="17.8" fill="#b4b6c6"/>
<rect x="255.6" y="1318.5" width="1.7" height="17.8" fill="#b4b6c6"/>
<rect x="252.8" y="1315.1" width="1.5" height="17.8" fill="#b4b6c6"/>
<rect x="250.5" y="1311.7" width="1.2" height="17.8" fill="#b4b6c6"/>
<rect x="248.7" y="1308.1" width="0.9" height="17.8" fill="#b4b6c6"/>
<rect x="247.3" y="1304.5" width="0.7" height="17.8" fill="#b4b6c6"/>
<rect x="246.4" y="1300.8" width="0.4" height="17.8" fill="#b4b6c6"/>
<path d="M431.8,1294 L436.6,1295.1 L436.5,1296.2 L431.6,1297.2 L431.6,1297.5 L436.2,1298.8 L436,1299.9 L431,1300.7 L430.9,1301 L435.3,1302.5 L435,1303.6 L429.9,1304.2 L429.7,1304.5 L434,1306.2 L433.5,1307.3 L428.3,1307.6 L428.1,1307.9 L432.1,1309.8 L431.5,1310.8 L426.3,1311 L426.1,1311.3 L429.9,1313.3 L429.1,1314.3 L423.9,1314.2 L423.6,1314.6 L427.1,1316.7 L426.2,1317.7 L421,1317.4 L420.7,1317.7 L423.9,1320 L422.9,1320.9 L417.8,1320.5 L417.4,1320.8 L420.3,1323.1 L419.2,1324 L414.1,1323.4 L413.7,1323.7 L416.4,1326.1 L415.1,1327 L410.1,1326.1 L409.7,1326.4 L412,1329 L410.6,1329.8 L405.7,1328.8 L405.3,1329 L407.2,1331.6 L405.7,1332.4 L401.1,1331.2 L400.6,1331.4 L402.2,1334.1 L400.6,1334.8 L396.1,1333.4 L395.5,1333.6 L396.8,1336.4 L395.1,1337 L390.8,1335.4 L390.2,1335.6 L391.1,1338.4 L389.3,1339 L385.2,1337.3 L384.7,1337.4 L385.2,1340.3 L383.3,1340.8 L379.5,1338.9 L378.9,1339 L379,1341.9 L377.1,1342.3 L373.5,1340.3 L372.9,1340.4 L372.7,1343.2 L370.7,1343.6 L367.4,1341.4 L366.8,1341.5 L366.2,1344.3 L364.2,1344.6 L361.2,1342.3 L360.5,1342.4 L359.6,1345.2 L357.6,1345.4 L354.8,1342.9 L354.2,1343 L352.8,1345.7 L350.8,1345.9 L348.4,1343.3 L347.8,1343.4 L346.1,1346.1 L344,1346.1 L341.9,1343.5 L341.3,1343.5 L339.3,1346.1 L337.2,1346.1 L335.5,1343.4 L334.8,1343.4 L332.5,1345.9 L330.4,1345.8 L329.1,1343 L328.4,1343 L325.7,1345.4 L323.7,1345.2 L322.7,1342.4 L322.1,1342.4 L319.1,1344.7 L317.1,1344.4 L316.4,1341.6 L315.8,1341.5 L312.5,1343.7 L310.6,1343.3 L310.3,1340.5 L309.7,1340.4 L306.1,1342.4 L304.2,1342 L304.3,1339.2 L303.7,1339 L299.9,1340.9 L298,1340.4 L298.5,1337.6 L297.9,1337.4 L293.8,1339.2 L292.1,1338.6 L292.9,1335.8 L292.4,1335.6 L288.1,1337.2 L286.4,1336.6 L287.6,1333.8 L287.1,1333.6 L282.6,1335 L281,1334.4 L282.5,1331.6 L282,1331.4 L277.4,1332.7 L275.9,1331.9 L277.8,1329.3 L277.3,1329 L272.5,1330.1 L271.1,1329.2 L273.3,1326.7 L272.9,1326.4 L268,1327.3 L266.7,1326.4 L269.2,1323.9 L268.9,1323.7 L263.8,1324.3 L262.6,1323.4 L265.5,1321.1 L265.2,1320.8 L260,1321.2 L259,1320.3 L262.2,1318 L261.9,1317.7 L256.7,1318 L255.8,1317 L259.2,1314.9 L259,1314.6 L253.8,1314.6 L253,1313.6 L256.7,1311.6 L256.5,1311.3 L251.3,1311.2 L250.7,1310.1 L254.7,1308.3 L254.5,1307.9 L249.3,1307.6 L248.8,1306.5 L253,1304.9 L252.9,1304.5 L247.8,1304 L247.4,1302.9 L251.8,1301.4 L251.7,1301 L246.7,1300.3 L246.5,1299.2 L251.1,1297.9 L251,1297.5 L246.1,1296.6 L246,1295.5 L250.8,1294.4 L250.8,1294 L246,1292.9 L246.1,1291.8 L251,1290.8 L251,1290.5 L246.4,1289.2 L246.6,1288.1 L251.6,1287.3 L251.7,1287 L247.3,1285.5 L247.6,1284.4 L252.7,1283.8 L252.9,1283.5 L248.6,1281.8 L249.1,1280.7 L254.3,1280.4 L254.5,1280.1 L250.5,1278.2 L251.1,1277.2 L256.3,1277 L256.5,1276.7 L252.7,1274.7 L253.5,1273.7 L258.7,1273.8 L259,1273.4 L255.5,1271.3 L256.4,1270.3 L261.6,1270.6 L261.9,1270.3 L258.7,1268 L259.7,1267.1 L264.8,1267.5 L265.2,1267.2 L262.3,1264.9 L263.4,1264 L268.5,1264.6 L268.9,1264.3 L266.2,1261.9 L267.5,1261 L272.5,1261.9 L272.9,1261.6 L270.6,1259 L272,1258.2 L276.9,1259.2 L277.3,1259 L275.4,1256.4 L276.9,1255.6 L281.5,1256.8 L282,1256.6 L280.4,1253.9 L282,1253.2 L286.5,1254.6 L287.1,1254.4 L285.8,1251.6 L287.5,1251 L291.8,1252.6 L292.4,1252.4 L291.5,1249.6 L293.3,1249 L297.4,1250.7 L297.9,1250.6 L297.4,1247.7 L299.3,1247.2 L303.1,1249.1 L303.7,1249 L303.6,1246.1 L305.5,1245.7 L309.1,1247.7 L309.7,1247.6 L309.9,1244.8 L311.9,1244.4 L315.2,1246.6 L315.8,1246.5 L316.4,1243.7 L318.4,1243.4 L321.4,1245.7 L322.1,1245.6 L323,1242.8 L325,1242.6 L327.8,1245.1 L328.4,1245 L329.8,1242.3 L331.8,1242.1 L334.2,1244.7 L334.8,1244.6 L336.5,1241.9 L338.6,1241.9 L340.7,1244.5 L341.3,1244.5 L343.3,1241.9 L345.4,1241.9 L347.1,1244.6 L347.8,1244.6 L350.1,1242.1 L352.2,1242.2 L353.5,1245 L354.2,1245 L356.9,1242.6 L358.9,1242.8 L359.9,1245.6 L360.5,1245.6 L363.5,1243.3 L365.5,1243.6 L366.2,1246.4 L366.8,1246.5 L370.1,1244.3 L372,1244.7 L372.3,1247.5 L372.9,1247.6 L376.5,1245.6 L378.4,1246 L378.3,1248.8 L378.9,1249 L382.7,1247.1 L384.6,1247.6 L384.1,1250.4 L384.7,1250.6 L388.8,1248.8 L390.5,1249.4 L389.7,1252.2 L390.2,1252.4 L394.5,1250.8 L396.2,1251.4 L395,1254.2 L395.5,1254.4 L400,1253 L401.6,1253.6 L400.1,1256.4 L400.6,1256.6 L405.2,1255.3 L406.7,1256.1 L404.8,1258.7 L405.3,1259 L410.1,1257.9 L411.5,1258.8 L409.3,1261.3 L409.7,1261.6 L414.6,1260.7 L415.9,1261.6 L413.4,1264.1 L413.7,1264.3 L418.8,1263.7 L420,1264.6 L417.1,1266.9 L417.4,1267.2 L422.6,1266.8 L423.6,1267.7 L420.4,1270 L420.7,1270.3 L425.9,1270 L426.8,1271 L423.4,1273.1 L423.6,1273.4 L428.8,1273.4 L429.6,1274.4 L425.9,1276.4 L426.1,1276.7 L431.3,1276.8 L431.9,1277.9 L427.9,1279.7 L428.1,1280.1 L433.3,1280.4 L433.8,1281.5 L429.6,1283.1 L429.7,1283.5 L434.8,1284 L435.2,1285.1 L430.8,1286.6 L430.9,1287 L435.9,1287.7 L436.1,1288.8 L431.5,1290.1 L431.6,1290.5 L436.5,1291.4 L436.6,1292.5 L431.8,1293.6 Z" stroke="#262a63" stroke-width="1.6" fill="#fff" />
<ellipse cx="342" cy="1297" rx="85.5" ry="47" stroke="#b2b2b8" stroke-width="5" fill="#e6e6eb" />
<ellipse cx="342" cy="1299" rx="82.5" ry="45" stroke="#262a63" stroke-width="1.0" fill="none" />
<line x1="300.8" y1="1256" x2="300.8" y2="1300" stroke="#262a63" stroke-width="1.1" stroke-dasharray="12 3" stroke-linecap="butt"/>
<ellipse cx="300.8" cy="1281" rx="2.6" ry="2" stroke="#262a63" stroke-width="1.0" fill="#fff" />
<path d="M346.3,1286.8 L321,1260.9 L337.3,1293.2 Z" stroke="#262a63" stroke-width="1.3" fill="#a2a2ac" />
<line x1="345.4" y1="1287.4" x2="321" y2="1260.9" stroke="#262a63" stroke-width="2.4" />
<path d="M343.5,1295.2 L396.5,1271.9 L340.1,1284.8 Z" stroke="#262a63" stroke-width="1.3" fill="#a2a2ac" />
<line x1="343.2" y1="1294.2" x2="396.5" y2="1271.9" stroke="#262a63" stroke-width="2.4" />
<path d="M341.7,1284.5 L266.8,1291.1 L341.9,1295.5 Z" stroke="#262a63" stroke-width="1.3" fill="#a2a2ac" />
<line x1="341.7" y1="1285.6" x2="266.8" y2="1291.1" stroke="#262a63" stroke-width="2.4" />
<path d="M340.1,1295.2 L416.4,1314.4 L343.5,1284.8 Z" stroke="#262a63" stroke-width="1.3" fill="#a2a2ac" />
<line x1="340.4" y1="1294.2" x2="416.4" y2="1314.4" stroke="#262a63" stroke-width="2.4" />
<path d="M338.4,1285.7 L287.4,1333.6 L345.2,1294.3 Z" stroke="#262a63" stroke-width="1.3" fill="#a2a2ac" />
<line x1="339" y1="1286.6" x2="287.4" y2="1333.6" stroke="#262a63" stroke-width="2.4" />
<path d="M336.6,1291.9 L362.2,1344.6 L347,1288.1 Z" stroke="#262a63" stroke-width="1.3" fill="#a2a2ac" />
<line x1="337.7" y1="1291.5" x2="362.2" y2="1344.6" stroke="#262a63" stroke-width="2.4" />
<path d="M329.9,1276 V1307 Q341.5,1314 353.2,1307 V1276" stroke="#262a63" stroke-width="1.0" fill="#c8c8cc" />
<ellipse cx="341.5" cy="1276" rx="11.6" ry="5" stroke="#262a63" stroke-width="1.0" fill="#bdbdc2" />
<path d="M335.3,1140 V1276 Q341.9,1279 348.5,1276 V1140 Z" stroke="#262a63" stroke-width="1.4" fill="#85858f" />
<line x1="337.5" y1="1155" x2="337.5" y2="1274" stroke="#6d6d78" stroke-width="2.2" />
<path d="M335.3,1132 H348.5 V1151 H335.3 Z" stroke="#262a63" stroke-width="1.4" fill="#9a9aa4" />
<line x1="335.3" y1="1151" x2="348.5" y2="1151" stroke="#262a63" stroke-width="3.0" />
<line x1="339" y1="1136" x2="344" y2="1141" stroke="#262a63" stroke-width="1.3" />
<path d="M338.2,1132 V1121 Q341.9,1118.6 345.6,1121 V1132" stroke="#262a63" stroke-width="1.4" fill="#8e8e98" />
<ellipse cx="341.9" cy="1121" rx="3.7" ry="1.6" stroke="#262a63" stroke-width="1.0" fill="#a8a8b2" />
<line x1="291.2" y1="1549.8" x2="291.2" y2="1552.5" stroke="#262a63" stroke-width="0.9" />
<line x1="291.2" y1="1554.1" x2="291.2" y2="1556.8" stroke="#262a63" stroke-width="0.9" />
<line x1="331.7" y1="1574.5" x2="331.7" y2="1577.2" stroke="#262a63" stroke-width="0.9" />
<line x1="331.7" y1="1578.8" x2="331.7" y2="1581.5" stroke="#262a63" stroke-width="0.9" />
<line x1="415.2" y1="1605.4" x2="415.2" y2="1608.1" stroke="#262a63" stroke-width="0.9" />
<line x1="415.2" y1="1609.7" x2="415.2" y2="1612.4" stroke="#262a63" stroke-width="0.9" />
<line x1="405.3" y1="1611.5" x2="405.3" y2="1614.2" stroke="#262a63" stroke-width="0.9" />
<line x1="405.3" y1="1615.8" x2="405.3" y2="1618.5" stroke="#262a63" stroke-width="0.9" />
<path d="M360.8,1564.4 L368,1562 L372,1563 L402.9,1547.9 L409.8,1553.3 V1557 L372,1578 L369.5,1580 L360.4,1573 Z" stroke="#262a63" stroke-width="1.0" fill="#262a63" />
<rect x="385" y="1557" width="3" height="3" fill="#2c9a3c"/><circle cx="378" cy="1562" r="1.1" fill="#2c9a3c"/><circle cx="395" cy="1553" r="1" fill="#2c9a3c"/>
<ellipse cx="411.5" cy="1586.7" rx="4.8" ry="4.2" stroke="#262a63" stroke-width="0.8" fill="#262a63" />
<ellipse cx="388" cy="1602.7" rx="5.2" ry="4.6" stroke="#262a63" stroke-width="0.8" fill="#262a63" />
<line x1="164" y1="600.4" x2="262.9" y2="705.7" stroke="#1f1f48" stroke-width="1.3" marker-end="url(#ar)"/>
<circle cx="143.8" cy="579.7" r="25.3" stroke="#1f1f48" stroke-width="2.5" fill="#fff"/>
<text x="143.8" y="588.3" font-size="24" text-anchor="middle" fill="#202040">65</text>
<line x1="1177" y1="557.5" x2="1046.6" y2="619.3" stroke="#1f1f48" stroke-width="1.3" marker-end="url(#ar)"/>
<circle cx="1201.5" cy="545.8" r="25.3" stroke="#1f1f48" stroke-width="2.5" fill="#fff"/>
<text x="1201.5" y="554.4" font-size="24" text-anchor="middle" fill="#202040">66</text>
<line x1="646.3" y1="670.8" x2="769.1" y2="745.2" stroke="#1f1f48" stroke-width="1.3" marker-end="url(#ar)"/>
<circle cx="623.1" cy="655.9" r="25.3" stroke="#1f1f48" stroke-width="2.5" fill="#fff"/>
<text x="623.1" y="664.5" font-size="24" text-anchor="middle" fill="#202040">67</text>
<line x1="1175.4" y1="897.3" x2="966.1" y2="996.2" stroke="#1f1f48" stroke-width="1.3" marker-end="url(#ar)"/>
<circle cx="1201.5" cy="884.2" r="25.3" stroke="#1f1f48" stroke-width="2.5" fill="#fff"/>
<text x="1201.5" y="892.8" font-size="24" text-anchor="middle" fill="#202040">68</text>
<line x1="1175.4" y1="1007.2" x2="1009.6" y2="1073" stroke="#1f1f48" stroke-width="1.3" marker-end="url(#ar)"/>
<circle cx="1201.5" cy="995.8" r="25.3" stroke="#1f1f48" stroke-width="2.5" fill="#fff"/>
<text x="1201.5" y="1004.4" font-size="24" text-anchor="middle" fill="#202040">70</text>
<line x1="789.3" y1="1050.5" x2="869.5" y2="1090.6" stroke="#1f1f48" stroke-width="1.3" marker-end="url(#ar)"/>
<circle cx="764.6" cy="1037.4" r="25.3" stroke="#1f1f48" stroke-width="2.5" fill="#fff"/>
<text x="764.6" y="1046" font-size="24" text-anchor="middle" fill="#202040">69</text>
<line x1="171.7" y1="1059.5" x2="291.7" y2="1175.3" stroke="#1f1f48" stroke-width="1.3" marker-end="url(#ar)"/>
<circle cx="151.9" cy="1040" r="25.3" stroke="#1f1f48" stroke-width="2.5" fill="#fff"/>
<text x="151.9" y="1048.6" font-size="24" text-anchor="middle" fill="#202040">63</text>
<line x1="416.9" y1="1062.6" x2="349.1" y2="1105.1" stroke="#1f1f48" stroke-width="1.3" marker-end="url(#ar)"/>
<circle cx="439" cy="1044.6" r="25.3" stroke="#1f1f48" stroke-width="2.5" fill="#fff"/>
<text x="439" y="1053.2" font-size="24" text-anchor="middle" fill="#202040">64</text>
<line x1="178.8" y1="1228.7" x2="294.3" y2="1220.4" stroke="#1f1f48" stroke-width="1.3" marker-end="url(#ar)"/>
<circle cx="151.9" cy="1231" r="25.3" stroke="#1f1f48" stroke-width="2.5" fill="#fff"/>
<text x="151.9" y="1239.6" font-size="24" text-anchor="middle" fill="#202040">62</text>
<line x1="1175.4" y1="1237.4" x2="904.8" y2="1316.1" stroke="#1f1f48" stroke-width="1.3" marker-end="url(#ar)"/>
<circle cx="1201.5" cy="1229.5" r="25.3" stroke="#1f1f48" stroke-width="2.5" fill="#fff"/>
<text x="1201.5" y="1238.1" font-size="24" text-anchor="middle" fill="#202040">71</text>
<line x1="1175.4" y1="1375.4" x2="998.2" y2="1433.6" stroke="#1f1f48" stroke-width="1.3" marker-end="url(#ar)"/>
<circle cx="1201.5" cy="1367.1" r="25.3" stroke="#1f1f48" stroke-width="2.5" fill="#fff"/>
<text x="1201.5" y="1375.7" font-size="24" text-anchor="middle" fill="#202040">72</text>
<line x1="279.3" y1="1469.3" x2="379.4" y2="1558.3" stroke="#1f1f48" stroke-width="1.3" marker-end="url(#ar)"/>
<circle cx="259.9" cy="1449.9" r="25.3" stroke="#1f1f48" stroke-width="2.5" fill="#fff"/>
<text x="259.9" y="1458.5" font-size="24" text-anchor="middle" fill="#202040">61</text>
<line x1="512.8" y1="1539.7" x2="417.7" y2="1586.7" stroke="#1f1f48" stroke-width="1.3" marker-end="url(#ar)"/>
<circle cx="538.2" cy="1526.5" r="25.3" stroke="#1f1f48" stroke-width="2.5" fill="#fff"/>
<text x="538.2" y="1535.1" font-size="24" text-anchor="middle" fill="#202040">60</text>
</g>
<!--TITLEBLOCK-->
<g id="tb" stroke="#2a2950" fill="none">
<line x1="475.5" y1="1780" x2="1407.5" y2="1780" stroke-width="1.4"/>
<line x1="475.5" y1="1779.5" x2="475.5" y2="1999" stroke-width="2"/>
<line x1="930" y1="1780" x2="930" y2="1999" stroke-width="1.8"/>
<line x1="1195.3" y1="1780" x2="1195.3" y2="1999" stroke-width="1.6"/>
<line x1="930" y1="1853" x2="1407.5" y2="1853" stroke-width="1.6"/>
<line x1="926.5" y1="1925.7" x2="1407.5" y2="1925.7" stroke-width="1.4"/>
</g>
<g id="tbtext" fill="#232447">
<text x="937.2" y="1802.6" font-size="15.9" letter-spacing="2.0" textLength="240" lengthAdjust="spacingAndGlyphs"><tspan font-size="22">N</tspan>OMINATIVO MACCHINA:</text>
<text x="938.6" y="1836.6" font-size="24.2" textLength="147.6" lengthAdjust="spacingAndGlyphs">Pro 4K Touch</text>
<text x="937.2" y="1879.4" font-size="15.9" letter-spacing="2.0" textLength="240" lengthAdjust="spacingAndGlyphs"><tspan font-size="22">C</tspan>ODICE DISTINTA BASE:</text>
<text x="937.2" y="1951.4" font-size="15.9" letter-spacing="2.0" textLength="173" lengthAdjust="spacingAndGlyphs"><tspan font-size="22">C</tspan>ODICE DISEGNO:</text>
<text x="979" y="1987.6" font-size="34.8" textLength="162" lengthAdjust="spacingAndGlyphs">L300EX02</text>
<text x="1203" y="1802.7" font-size="15.9" letter-spacing="2.0" textLength="86" lengthAdjust="spacingAndGlyphs"><tspan font-size="22">A</tspan>UTORE:</text>
<text x="1251.8" y="1838.3" font-size="24" textLength="62.4" lengthAdjust="spacingAndGlyphs">Bodei</text>
<text x="1202.4" y="1875.4" font-size="15.9" letter-spacing="2.0" textLength="192" lengthAdjust="spacingAndGlyphs"><tspan font-size="22">D</tspan>ATA DI EDIZIONE:</text>
<text x="1201" y="1911.1" font-size="23.8" textLength="121" lengthAdjust="spacingAndGlyphs">04/04/2016</text>
<text x="1203" y="1951.6" font-size="15.9" letter-spacing="2.0" textLength="99" lengthAdjust="spacingAndGlyphs"><tspan font-size="22">T</tspan>AVOLA :</text>
<text x="1214" y="1986.8" font-size="34.6">3</text>
</g>
<!-- LOGO -->
<g id="logo" fill="#86827f">
<path d="M508.1,1922.2 V1874.2 A21.5,21.5 0 0 1 551.1,1874.2 L560.8,1902 V1869.4 H582.4 V1902 A21.8,21.8 0 0 1 538.8,1902 L529.8,1874 V1922.2 Z"/>
<rect x="560.8" y="1853.9" width="21.6" height="2.8"/><rect x="560.8" y="1859.1" width="21.6" height="2.7"/><rect x="560.8" y="1864.2" width="21.6" height="2.8"/>
<path d="M607.6,1853.8 H655.8 V1874.5 H610 V1878 H639.9 V1899.2 H610 V1902 H655.8 V1922.6 H607.6 A18.5,18.5 0 0 1 589.1,1904.1 V1872.3 A18.5,18.5 0 0 1 607.6,1853.8 Z"/>
<rect x="641.3" y="1878" width="3.4" height="21.2"/><rect x="646.4" y="1878" width="3.5" height="21.2"/><rect x="651.9" y="1878" width="3.6" height="21.2"/>
<path d="M661.6,1922.4 V1874.2 A21.4,21.4 0 0 1 704.4,1874.2 L708.5,1900 L711.8,1874.2 A21.45,21.45 0 0 1 754.7,1874.2 V1906.4 H733.3 V1874.2 L729.5,1901.7 A21.65,21.65 0 0 1 686.2,1901.7 L683.4,1874.2 V1922.4 Z"/>
<rect x="733.3" y="1908.4" width="21.4" height="3.3"/><rect x="733.3" y="1914.2" width="21.4" height="2.9"/><rect x="733.3" y="1919.5" width="21.4" height="2.9"/>
<circle cx="796.3" cy="1888.4" r="35.6"/>
<circle cx="796.2" cy="1888.1" r="14" fill="#fff"/>
<rect x="805" y="1880.4" width="30" height="16.6" fill="#fff"/>
<rect x="809" y="1882.4" width="23.9" height="2.5"/><rect x="809" y="1887.1" width="24" height="2.6"/><rect x="809" y="1892" width="23.5" height="2.7"/>
<path d="M835.3,1853.8 H847 A34.3,34.3 0 0 1 847,1922.4 H835.3 Z"/>
<path d="M887.5,1853.8 A34.3,34.3 0 0 0 887.5,1922.4 H902.2 V1874.2 H887.5 Z"/>
<path fill="#fff" d="M834,1874.2 H843 A13.9,13.9 0 0 1 843,1902 H834 Z"/>
<path fill="#fff" d="M903.5,1874.6 H894 A13.7,13.7 0 0 0 894,1902 H903.5 Z"/>
<rect x="887.1" y="1853.8" width="3.4" height="20.4"/><rect x="893" y="1853.8" width="2.7" height="20.4"/><rect x="898.4" y="1853.8" width="3.8" height="20.4"/>
<rect x="508" y="1936.1" width="147.8" height="1.8"/>
<text x="661" y="1940.8" font-size="11.6" textLength="241.5" lengthAdjust="spacingAndGlyphs" letter-spacing="2.6" stroke="#86827f" stroke-width="0.35">PROFESSIONAL CLASS</text>
<text x="904.8" y="1865" font-size="13.5">®</text>
</g>
</svg>
</body></html>
